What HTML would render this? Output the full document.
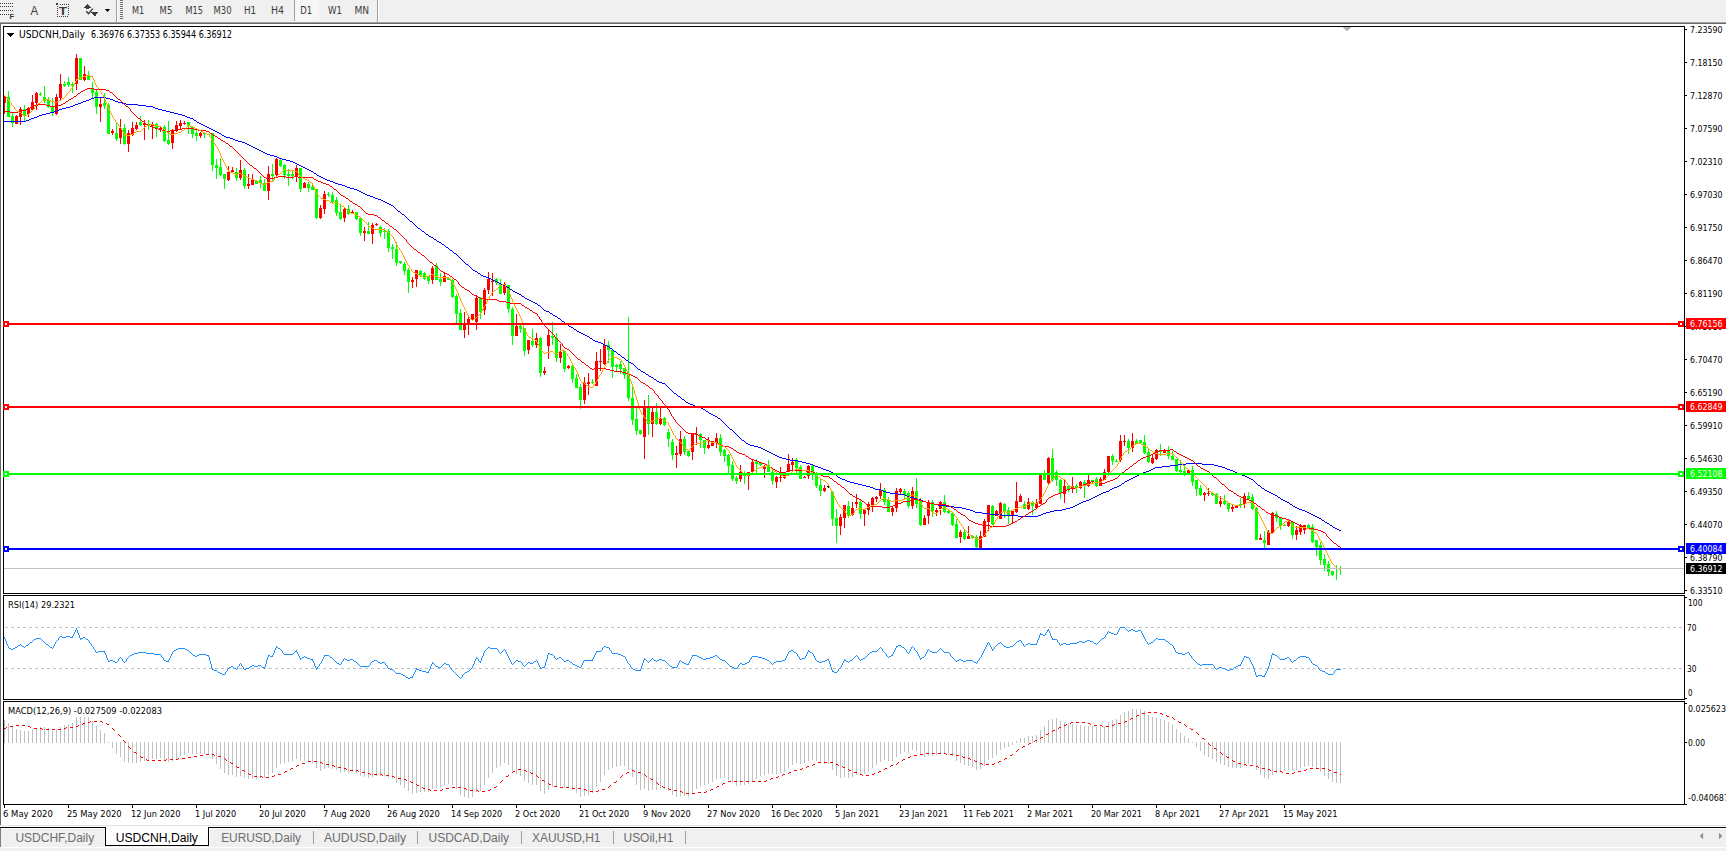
<!DOCTYPE html><html><head><meta charset="utf-8"><title>USDCNH,Daily</title><style>html,body{margin:0;padding:0;width:1726px;height:851px;overflow:hidden;background:#fff}</style></head><body><svg width="1726" height="851" viewBox="0 0 1726 851" style="position:absolute;left:0;top:0" shape-rendering="crispEdges">
<rect x="0" y="0" width="1726" height="22" fill="#f0f0f0"/>
<rect x="0" y="21" width="1726" height="1" fill="#f4f4f4"/>
<rect x="0" y="22" width="1726" height="1" fill="#a0a0a0"/>
<rect x="0" y="23" width="1726" height="1" fill="#696969"/>
<rect x="0" y="24" width="1726" height="801" fill="#ffffff"/>
<rect x="0" y="24" width="1" height="801" fill="#696969"/>
<path d="M3 26h1682v568h-1682z M4 27v566h1680v-566z" fill="#000" fill-rule="evenodd"/>
<path d="M3 595h1682v105h-1682z M4 596v103h1680v-103z" fill="#000" fill-rule="evenodd"/>
<path d="M3 701h1682v104h-1682z M4 702v102h1680v-102z" fill="#000" fill-rule="evenodd"/>
<defs><clipPath id="cm"><rect x="4" y="27" width="1680" height="566"/></clipPath><clipPath id="cr"><rect x="4" y="596" width="1680" height="103"/></clipPath><clipPath id="cd"><rect x="4" y="702" width="1680" height="102"/></clipPath></defs>
<g clip-path="url(#cm)">
<path fill="#ff0000" d="M4 96h1v18h-1z M3 96h3v7h-3zM16 115h1v9h-1z M15 116h3v8h-3zM20 107h1v18h-1z M19 109h3v8h-3zM28 107h1v10h-1z M27 108h3v6h-3zM32 95h1v16h-1z M31 102h3v8h-3zM36 92h1v18h-1z M35 93h3v10h-3zM56 94h1v21h-1z M55 97h3v17h-3zM60 74h1v26h-1z M59 84h3v14h-3zM76 54h1v36h-1z M75 58h3v26h-3zM84 66h1v15h-1z M83 74h3v6h-3zM100 97h1v25h-1z M99 104h3v3h-3zM112 129h1v6h-1z M111 131h3v2h-3zM120 119h1v25h-1z M119 128h3v10h-3zM128 130h1v22h-1z M127 133h3v11h-3zM132 122h1v14h-1z M131 128h3v7h-3zM136 122h1v8h-1z M135 125h3v4h-3zM144 120h1v20h-1z M143 123h3v2h-3zM152 122h1v17h-1z M151 125h3v1h-3zM160 127h1v5h-1z M159 128h3v2h-3zM172 129h1v20h-1z M171 130h3v13h-3zM176 121h1v11h-1z M175 125h3v5h-3zM180 120h1v9h-1z M179 123h3v3h-3zM184 121h1v4h-1z M183 123h3v1h-3zM200 132h1v6h-1z M199 133h3v3h-3zM228 166h1v15h-1z M227 172h3v8h-3zM232 167h1v6h-1z M231 170h3v2h-3zM240 160h1v20h-1z M239 170h3v8h-3zM248 174h1v15h-1z M247 184h3v2h-3zM252 174h1v11h-1z M251 180h3v5h-3zM268 166h1v34h-1z M267 174h3v17h-3zM276 158h1v18h-1z M275 159h3v16h-3zM296 165h1v17h-1z M295 168h3v8h-3zM304 182h1v6h-1z M303 183h3v5h-3zM320 205h1v14h-1z M319 208h3v10h-3zM324 191h1v23h-1z M323 194h3v15h-3zM344 208h1v14h-1z M343 209h3v9h-3zM352 210h1v4h-1z M351 212h3v2h-3zM364 227h1v14h-1z M363 231h3v2h-3zM372 223h1v21h-1z M371 225h3v9h-3zM376 223h1v3h-1z M375 224h3v1h-3zM412 277h1v11h-1z M411 280h3v2h-3zM416 270h1v17h-1z M415 270h3v9h-3zM432 266h1v18h-1z M431 268h3v12h-3zM444 272h1v10h-1z M443 276h3v6h-3zM464 312h1v26h-1z M463 323h3v7h-3zM468 315h1v20h-1z M467 319h3v5h-3zM472 314h1v7h-1z M471 314h3v6h-3zM476 296h1v34h-1z M475 298h3v24h-3zM484 288h1v27h-1z M483 290h3v20h-3zM488 272h1v22h-1z M487 279h3v11h-3zM492 273h1v23h-1z M491 281h3v1h-3zM504 282h1v13h-1z M503 284h3v9h-3zM516 314h1v22h-1z M515 326h3v10h-3zM528 340h1v14h-1z M527 340h3v10h-3zM536 333h1v15h-1z M535 338h3v7h-3zM544 367h1v8h-1z M543 371h3v2h-3zM548 329h1v30h-1z M547 335h3v11h-3zM560 344h1v19h-1z M559 352h3v6h-3zM568 365h1v4h-1z M567 366h3v2h-3zM584 377h1v27h-1z M583 383h3v17h-3zM588 373h1v22h-1z M587 382h3v2h-3zM596 352h1v34h-1z M595 361h3v25h-3zM600 349h1v22h-1z M599 361h3v1h-3zM604 339h1v26h-1z M603 345h3v19h-3zM644 400h1v59h-1z M643 406h3v31h-3zM652 408h1v29h-1z M651 412h3v12h-3zM660 408h1v17h-1z M659 419h3v5h-3zM676 446h1v22h-1z M675 453h3v2h-3zM680 431h1v25h-1z M679 439h3v15h-3zM692 434h1v26h-1z M691 434h3v18h-3zM696 427h1v18h-1z M695 434h3v1h-3zM708 437h1v12h-1z M707 445h3v3h-3zM712 441h1v5h-1z M711 443h3v3h-3zM716 433h1v15h-1z M715 438h3v5h-3zM740 465h1v17h-1z M739 472h3v7h-3zM748 472h1v18h-1z M747 472h3v4h-3zM752 459h1v14h-1z M751 462h3v10h-3zM764 465h1v13h-1z M763 467h3v2h-3zM776 476h1v12h-1z M775 477h3v5h-3zM780 467h1v15h-1z M779 477h3v1h-3zM784 474h1v5h-1z M783 475h3v3h-3zM788 454h1v18h-1z M787 464h3v8h-3zM792 458h1v12h-1z M791 462h3v3h-3zM804 476h1v2h-1z M803 477h3v1h-3zM808 465h1v14h-1z M807 466h3v10h-3zM824 485h1v7h-1z M823 488h3v3h-3zM840 514h1v21h-1z M839 517h3v9h-3zM844 505h1v23h-1z M843 505h3v13h-3zM852 502h1v14h-1z M851 508h3v7h-3zM856 494h1v14h-1z M855 502h3v2h-3zM864 509h1v17h-1z M863 510h3v4h-3zM868 502h1v13h-1z M867 504h3v6h-3zM872 497h1v15h-1z M871 498h3v7h-3zM876 496h1v6h-1z M875 497h3v2h-3zM880 483h1v16h-1z M879 490h3v6h-3zM892 506h1v10h-1z M891 508h3v4h-3zM896 488h1v24h-1z M895 491h3v17h-3zM900 488h1v6h-1z M899 489h3v3h-3zM912 487h1v22h-1z M911 491h3v15h-3zM924 515h1v10h-1z M923 518h3v7h-3zM928 500h1v24h-1z M927 503h3v13h-3zM936 508h1v8h-1z M935 510h3v2h-3zM940 501h1v14h-1z M939 502h3v7h-3zM960 530h1v13h-1z M959 532h3v5h-3zM968 526h1v13h-1z M967 536h3v3h-3zM980 531h1v17h-1z M979 536h3v12h-3zM984 519h1v18h-1z M983 521h3v16h-3zM988 505h1v26h-1z M987 505h3v17h-3zM996 510h1v6h-1z M995 511h3v5h-3zM1000 502h1v17h-1z M999 503h3v16h-3zM1012 510h1v13h-1z M1011 511h3v4h-3zM1016 482h1v31h-1z M1015 501h3v11h-3zM1020 494h1v8h-1z M1019 496h3v6h-3zM1028 498h1v12h-1z M1027 502h3v7h-3zM1036 499h1v9h-1z M1035 503h3v5h-3zM1040 475h1v29h-1z M1039 475h3v29h-3zM1048 457h1v27h-1z M1047 458h3v25h-3zM1064 480h1v23h-1z M1063 486h3v8h-3zM1072 477h1v16h-1z M1071 486h3v2h-3zM1080 481h1v8h-1z M1079 482h3v6h-3zM1088 475h1v12h-1z M1087 480h3v6h-3zM1100 477h1v9h-1z M1099 479h3v7h-3zM1104 469h1v11h-1z M1103 472h3v8h-3zM1108 456h1v17h-1z M1107 456h3v16h-3zM1120 435h1v27h-1z M1119 441h3v19h-3zM1124 435h1v11h-1z M1123 441h3v1h-3zM1132 433h1v19h-1z M1131 441h3v7h-3zM1152 455h1v9h-1z M1151 458h3v5h-3zM1156 449h1v11h-1z M1155 450h3v9h-3zM1164 449h1v4h-1z M1163 451h3v2h-3zM1188 469h1v4h-1z M1187 470h3v3h-3zM1204 492h1v9h-1z M1203 493h3v2h-3zM1208 488h1v8h-1z M1207 493h3v1h-3zM1220 496h1v11h-1z M1219 501h3v3h-3zM1232 505h1v7h-1z M1231 507h3v2h-3zM1236 505h1v3h-1z M1235 505h3v3h-3zM1244 493h1v15h-1z M1243 496h3v8h-3zM1260 534h1v6h-1z M1259 538h3v2h-3zM1268 530h1v15h-1z M1267 532h3v13h-3zM1272 512h1v22h-1z M1271 513h3v20h-3zM1288 520h1v7h-1z M1287 522h3v4h-3zM1296 526h1v14h-1z M1295 530h3v5h-3zM1300 524h1v11h-1z M1299 525h3v7h-3zM1304 525h1v9h-1z M1303 525h3v5h-3z"/>
<path fill="#00ff00" d="M8 91h1v26h-1z M7 97h3v20h-3zM12 113h1v14h-1z M11 116h3v7h-3zM24 105h1v16h-1z M23 109h3v7h-3zM40 92h1v4h-1z M39 94h3v1h-3zM44 86h1v17h-1z M43 97h3v4h-3zM48 97h1v11h-1z M47 100h3v7h-3zM52 98h1v18h-1z M51 107h3v6h-3zM64 81h1v6h-1z M63 84h3v2h-3zM68 77h1v10h-1z M67 82h3v3h-3zM72 82h1v11h-1z M71 84h3v2h-3zM80 58h1v22h-1z M79 58h3v22h-3zM88 71h1v9h-1z M87 76h3v4h-3zM92 82h1v17h-1z M91 89h3v4h-3zM96 90h1v24h-1z M95 92h3v15h-3zM104 93h1v16h-1z M103 103h3v3h-3zM108 103h1v31h-1z M107 105h3v29h-3zM116 123h1v18h-1z M115 133h3v6h-3zM124 124h1v21h-1z M123 128h3v16h-3zM140 116h1v10h-1z M139 122h3v3h-3zM148 120h1v10h-1z M147 124h3v2h-3zM156 123h1v14h-1z M155 124h3v5h-3zM164 125h1v17h-1z M163 127h3v14h-3zM168 121h1v24h-1z M167 140h3v4h-3zM188 122h1v12h-1z M187 122h3v4h-3zM192 127h1v11h-1z M191 127h3v7h-3zM196 130h1v11h-1z M195 133h3v3h-3zM204 132h1v6h-1z M203 133h3v1h-3zM208 134h1v1h-1z M207 134h3v1h-3zM212 133h1v38h-1z M211 133h3v32h-3zM216 159h1v20h-1z M215 165h3v3h-3zM220 158h1v18h-1z M219 167h3v8h-3zM224 174h1v15h-1z M223 174h3v5h-3zM236 168h1v13h-1z M235 172h3v6h-3zM244 168h1v21h-1z M243 170h3v16h-3zM256 180h1v4h-1z M255 181h3v3h-3zM260 176h1v12h-1z M259 180h3v3h-3zM264 179h1v12h-1z M263 183h3v8h-3zM272 164h1v17h-1z M271 174h3v2h-3zM280 159h1v8h-1z M279 160h3v6h-3zM284 164h1v15h-1z M283 165h3v10h-3zM288 169h1v17h-1z M287 174h3v2h-3zM292 171h1v8h-1z M291 174h3v2h-3zM300 168h1v24h-1z M299 168h3v21h-3zM308 182h1v10h-1z M307 184h3v4h-3zM312 185h1v5h-1z M311 187h3v3h-3zM316 189h1v30h-1z M315 189h3v29h-3zM328 192h1v5h-1z M327 194h3v1h-3zM332 192h1v11h-1z M331 195h3v7h-3zM336 197h1v19h-1z M335 200h3v13h-3zM340 205h1v15h-1z M339 212h3v7h-3zM348 205h1v10h-1z M347 209h3v5h-3zM356 212h1v8h-1z M355 212h3v7h-3zM360 218h1v18h-1z M359 218h3v15h-3zM368 222h1v12h-1z M367 231h3v3h-3zM380 226h1v11h-1z M379 227h3v6h-3zM384 228h1v11h-1z M383 231h3v1h-3zM388 229h1v23h-1z M387 231h3v17h-3zM392 244h1v15h-1z M391 247h3v2h-3zM396 242h1v24h-1z M395 249h3v14h-3zM400 261h1v3h-1z M399 261h3v2h-3zM404 262h1v13h-1z M403 264h3v7h-3zM408 268h1v25h-1z M407 270h3v12h-3zM420 270h1v7h-1z M419 271h3v4h-3zM424 272h1v8h-1z M423 273h3v6h-3zM428 276h1v8h-1z M427 276h3v5h-3zM436 263h1v17h-1z M435 266h3v14h-3zM440 273h1v13h-1z M439 279h3v3h-3zM448 277h1v3h-1z M447 278h3v2h-3zM452 279h1v19h-1z M451 280h3v17h-3zM456 294h1v29h-1z M455 296h3v18h-3zM460 309h1v21h-1z M459 313h3v17h-3zM480 297h1v22h-1z M479 298h3v14h-3zM496 278h1v7h-1z M495 279h3v4h-3zM500 279h1v15h-1z M499 284h3v10h-3zM508 285h1v28h-1z M507 285h3v24h-3zM512 307h1v38h-1z M511 309h3v27h-3zM520 325h1v8h-1z M519 326h3v3h-3zM524 328h1v28h-1z M523 328h3v23h-3zM532 329h1v18h-1z M531 341h3v4h-3zM540 337h1v40h-1z M539 338h3v35h-3zM552 322h1v23h-1z M551 336h3v2h-3zM556 333h1v29h-1z M555 338h3v20h-3zM564 350h1v22h-1z M563 351h3v18h-3zM572 363h1v20h-1z M571 366h3v13h-3zM576 374h1v14h-1z M575 378h3v10h-3zM580 384h1v25h-1z M579 387h3v13h-3zM592 379h1v5h-1z M591 382h3v1h-3zM608 341h1v22h-1z M607 345h3v5h-3zM612 349h1v29h-1z M611 350h3v17h-3zM616 364h1v7h-1z M615 365h3v2h-3zM620 361h1v13h-1z M619 364h3v5h-3zM624 368h1v11h-1z M623 368h3v7h-3zM628 317h1v84h-1z M627 374h3v24h-3zM632 386h1v39h-1z M631 398h3v22h-3zM636 408h1v27h-1z M635 419h3v12h-3zM640 430h1v5h-1z M639 430h3v4h-3zM648 395h1v40h-1z M647 408h3v16h-3zM656 403h1v22h-1z M655 412h3v12h-3zM664 417h1v9h-1z M663 418h3v7h-3zM668 429h1v18h-1z M667 432h3v7h-3zM672 439h1v21h-1z M671 442h3v13h-3zM684 436h1v19h-1z M683 439h3v13h-3zM688 450h1v7h-1z M687 451h3v5h-3zM700 433h1v15h-1z M699 434h3v6h-3zM704 440h1v14h-1z M703 440h3v8h-3zM720 434h1v22h-1z M719 438h3v14h-3zM724 449h1v13h-1z M723 450h3v6h-3zM728 454h1v19h-1z M727 455h3v11h-3zM732 461h1v20h-1z M731 465h3v14h-3zM736 476h1v8h-1z M735 478h3v3h-3zM744 471h1v13h-1z M743 474h3v2h-3zM756 459h1v14h-1z M755 461h3v3h-3zM760 462h1v4h-1z M759 463h3v2h-3zM768 460h1v12h-1z M767 465h3v7h-3zM772 470h1v15h-1z M771 472h3v9h-3zM796 458h1v17h-1z M795 461h3v7h-3zM800 465h1v14h-1z M799 467h3v12h-3zM812 465h1v15h-1z M811 466h3v6h-3zM816 472h1v16h-1z M815 475h3v11h-3zM820 478h1v18h-1z M819 485h3v6h-3zM832 491h1v35h-1z M831 492h3v27h-3zM836 509h1v34h-1z M835 518h3v8h-3zM848 501h1v17h-1z M847 506h3v9h-3zM860 500h1v19h-1z M859 502h3v12h-3zM884 488h1v17h-1z M883 490h3v12h-3zM888 497h1v15h-1z M887 500h3v12h-3zM904 489h1v10h-1z M903 491h3v4h-3zM908 491h1v17h-1z M907 493h3v13h-3zM916 478h1v30h-1z M915 491h3v13h-3zM920 498h1v28h-1z M919 500h3v25h-3zM932 500h1v17h-1z M931 502h3v9h-3zM944 495h1v18h-1z M943 502h3v10h-3zM948 510h1v4h-1z M947 511h3v2h-3zM952 512h1v14h-1z M951 513h3v12h-3zM956 519h1v19h-1z M955 524h3v14h-3zM964 530h1v10h-1z M963 532h3v7h-3zM972 535h1v4h-1z M971 536h3v2h-3zM976 535h1v13h-1z M975 537h3v10h-3zM992 505h1v20h-1z M991 506h3v18h-3zM1004 503h1v15h-1z M1003 504h3v8h-3zM1008 507h1v17h-1z M1007 510h3v5h-3zM1024 501h1v8h-1z M1023 504h3v5h-3zM1032 501h1v14h-1z M1031 502h3v4h-3zM1044 470h1v10h-1z M1043 474h3v6h-3zM1052 449h1v33h-1z M1051 458h3v22h-3zM1056 470h1v16h-1z M1055 472h3v8h-3zM1060 479h1v20h-1z M1059 480h3v13h-3zM1068 485h1v7h-1z M1067 486h3v3h-3zM1076 484h1v9h-1z M1075 486h3v2h-3zM1084 480h1v18h-1z M1083 482h3v2h-3zM1092 480h1v4h-1z M1091 480h3v2h-3zM1096 477h1v10h-1z M1095 479h3v7h-3zM1112 454h1v11h-1z M1111 456h3v5h-3zM1116 459h1v3h-1z M1115 461h3v1h-3zM1128 439h1v15h-1z M1127 441h3v7h-3zM1136 439h1v5h-1z M1135 441h3v3h-3zM1140 440h1v4h-1z M1139 440h3v3h-3zM1144 435h1v19h-1z M1143 442h3v11h-3zM1148 448h1v15h-1z M1147 452h3v10h-3zM1160 444h1v12h-1z M1159 450h3v2h-3zM1168 446h1v13h-1z M1167 451h3v5h-3zM1172 451h1v9h-1z M1171 456h3v4h-3zM1176 459h1v13h-1z M1175 459h3v12h-3zM1180 460h1v14h-1z M1179 470h3v2h-3zM1184 465h1v11h-1z M1183 471h3v3h-3zM1192 466h1v20h-1z M1191 470h3v12h-3zM1196 480h1v16h-1z M1195 480h3v9h-3zM1200 485h1v11h-1z M1199 488h3v7h-3zM1212 492h1v4h-1z M1211 493h3v2h-3zM1216 493h1v11h-1z M1215 494h3v10h-3zM1224 495h1v10h-1z M1223 501h3v3h-3zM1228 503h1v9h-1z M1227 503h3v6h-3zM1240 498h1v10h-1z M1239 504h3v1h-3zM1248 492h1v7h-1z M1247 496h3v3h-3zM1252 494h1v16h-1z M1251 497h3v12h-3zM1256 507h1v33h-1z M1255 508h3v32h-3zM1264 531h1v17h-1z M1263 540h3v3h-3zM1276 511h1v11h-1z M1275 514h3v4h-3zM1280 517h1v13h-1z M1279 518h3v8h-3zM1284 524h1v2h-1z M1283 525h3v1h-3zM1292 522h1v17h-1z M1291 522h3v13h-3zM1308 524h1v5h-1z M1307 525h3v3h-3zM1312 524h1v19h-1z M1311 527h3v15h-3zM1316 540h1v16h-1z M1315 540h3v7h-3zM1320 542h1v23h-1z M1319 545h3v15h-3zM1324 554h1v17h-1z M1323 559h3v6h-3zM1328 561h1v15h-1z M1327 564h3v8h-3zM1332 571h1v5h-1z M1331 571h3v4h-3zM1336 565h1v15h-1z M1335 568h3v1h-3zM1340 566h1v9h-1z M1339 568h3v1h-3z"/>
<path fill="#000000" d="M828 484h1v4h-1z M827 486h3v1h-3z"/>
<path fill="#0000ff" d="M193 119h1v1h-1zM196 121h1v1h-1zM221 134h1v1h-1zM313 172h1v1h-1zM316 174h1v1h-1zM393 206h1v1h-1zM394 207h1v1h-1zM395 208h1v1h-1zM396 209h1v1h-1zM397 210h1v1h-1zM400 212h1v1h-1zM401 213h1v1h-1zM404 215h1v1h-1zM405 216h1v1h-1zM406 217h1v1h-1zM407 218h1v1h-1zM408 219h1v1h-1zM409 220h1v1h-1zM412 222h1v1h-1zM413 223h1v1h-1zM414 224h1v1h-1zM415 225h1v1h-1zM416 226h1v1h-1zM417 227h1v1h-1zM420 229h1v1h-1zM421 230h1v1h-1zM424 232h1v1h-1zM425 233h1v1h-1zM428 235h1v1h-1zM433 238h1v1h-1zM436 240h1v1h-1zM441 243h1v1h-1zM444 245h1v1h-1zM445 246h1v1h-1zM448 248h1v1h-1zM449 249h1v1h-1zM452 251h1v1h-1zM453 252h1v1h-1zM456 254h1v1h-1zM457 255h1v1h-1zM458 256h1v1h-1zM459 257h1v1h-1zM460 258h1v1h-1zM461 259h1v1h-1zM462 260h1v1h-1zM463 261h1v1h-1zM464 262h1v1h-1zM465 263h1v1h-1zM468 265h1v1h-1zM469 266h1v1h-1zM470 267h1v1h-1zM471 268h1v1h-1zM472 269h1v1h-1zM477 272h1v1h-1zM480 274h1v1h-1zM509 288h1v1h-1zM512 290h1v1h-1zM521 295h1v1h-1zM524 297h1v1h-1zM537 304h1v1h-1zM540 306h1v1h-1zM541 307h1v1h-1zM542 308h1v1h-1zM543 309h1v1h-1zM549 312h1v1h-1zM552 314h1v1h-1zM557 317h1v1h-1zM560 319h1v1h-1zM561 320h1v1h-1zM564 322h1v1h-1zM565 323h1v1h-1zM568 325h1v1h-1zM573 328h1v1h-1zM576 330h1v1h-1zM589 337h1v1h-1zM592 339h1v1h-1zM609 347h1v1h-1zM612 349h1v1h-1zM613 350h1v1h-1zM616 352h1v1h-1zM617 353h1v1h-1zM620 355h1v1h-1zM621 356h1v1h-1zM624 358h1v1h-1zM625 359h1v1h-1zM628 361h1v1h-1zM633 364h1v1h-1zM634 365h1v1h-1zM635 366h1v1h-1zM636 367h1v1h-1zM637 368h1v1h-1zM640 370h1v1h-1zM645 373h1v1h-1zM648 375h1v1h-1zM653 378h1v1h-1zM656 380h1v1h-1zM665 384h1v1h-1zM666 385h1v1h-1zM667 386h1v1h-1zM668 387h1v1h-1zM669 388h1v1h-1zM670 389h1v1h-1zM671 390h1v1h-1zM672 391h1v1h-1zM673 392h1v1h-1zM676 394h1v1h-1zM677 395h1v1h-1zM680 397h1v1h-1zM681 398h1v1h-1zM684 400h1v1h-1zM685 401h1v1h-1zM705 410h1v1h-1zM708 412h1v1h-1zM717 417h1v1h-1zM720 419h1v1h-1zM721 420h1v1h-1zM722 421h1v1h-1zM723 422h1v1h-1zM724 423h1v1h-1zM725 424h1v1h-1zM726 425h1v1h-1zM727 426h1v1h-1zM728 427h1v1h-1zM729 428h1v1h-1zM732 430h1v1h-1zM733 431h1v1h-1zM734 432h1v1h-1zM735 433h1v1h-1zM736 434h1v1h-1zM737 435h1v1h-1zM738 436h1v1h-1zM739 437h1v1h-1zM740 438h1v1h-1zM741 439h1v1h-1zM744 441h1v1h-1zM745 442h1v1h-1zM833 473h1v1h-1zM836 475h1v1h-1zM837 476h1v1h-1zM1109 490h1v1h-1zM1121 484h1v1h-1zM1124 482h1v1h-1zM1253 480h1v1h-1zM1254 481h1v1h-1zM1255 482h1v1h-1zM1256 483h1v1h-1zM1257 484h1v1h-1zM1260 486h1v1h-1zM1261 487h1v1h-1zM1264 489h1v1h-1zM1277 496h1v1h-1zM1280 498h1v1h-1zM1289 503h1v1h-1zM1292 505h1v1h-1zM1321 519h1v1h-1zM1324 521h1v1h-1zM1329 524h1v1h-1zM1332 526h1v1h-1zM335 183h3v1h-3zM1018 516h20v1h-20zM1315 516h2v1h-2zM973 511h2v1h-2zM1050 511h4v1h-4zM1305 511h2v1h-2zM327 180h3v1h-3zM777 456h2v1h-2zM862 485h4v1h-4zM1119 485h2v1h-2zM1258 485h2v1h-2zM769 452h2v1h-2zM970 510h3v1h-3zM1054 510h8v1h-8zM1302 510h3v1h-3zM605 345h2v1h-2zM813 465h2v1h-2zM1170 465h8v1h-8zM1214 465h4v1h-4zM62 108h4v1h-4zM155 108h3v1h-3zM321 177h2v1h-2zM426 234h2v1h-2zM1322 520h2v1h-2zM890 493h8v1h-8zM1101 493h2v1h-2zM1271 493h2v1h-2zM1002 515h16v1h-16zM1038 515h3v1h-3zM1313 515h2v1h-2zM761 448h2v1h-2zM954 507h8v1h-8zM1070 507h3v1h-3zM1295 507h2v1h-2zM579 332h2v1h-2zM898 494h7v1h-7zM1099 494h2v1h-2zM1273 494h2v1h-2zM1137 475h2v1h-2zM1242 475h3v1h-3zM286 160h4v1h-4zM26 120h3v1h-3zM194 120h2v1h-2zM533 302h2v1h-2zM553 315h2v1h-2zM525 298h2v1h-2zM197 122h2v1h-2zM806 463h4v1h-4zM1186 463h16v1h-16zM881 490h2v1h-2zM1265 490h2v1h-2zM39 115h3v1h-3zM182 115h3v1h-3zM802 462h4v1h-4zM930 503h4v1h-4zM1079 503h2v1h-2zM519 294h2v1h-2zM78 103h3v1h-3zM122 103h4v1h-4zM858 484h4v1h-4zM59 109h3v1h-3zM158 109h4v1h-4zM91 98h3v1h-3zM106 98h4v1h-4zM233 139h2v1h-2zM975 512h7v1h-7zM1046 512h4v1h-4zM1307 512h2v1h-2zM866 486h4v1h-4zM1117 486h2v1h-2zM422 231h2v1h-2zM1317 517h2v1h-2zM982 513h8v1h-8zM1043 513h3v1h-3zM1309 513h2v1h-2zM410 221h2v1h-2zM990 514h12v1h-12zM1041 514h2v1h-2zM1311 514h2v1h-2zM711 414h2v1h-2zM946 506h8v1h-8zM1073 506h2v1h-2zM1293 506h2v1h-2zM546 311h3v1h-3zM75 104h3v1h-3zM126 104h12v1h-12zM713 415h2v1h-2zM57 110h2v1h-2zM162 110h4v1h-4zM29 119h2v1h-2zM513 291h2v1h-2zM818 467h3v1h-3zM1155 467h7v1h-7zM1222 467h3v1h-3zM37 116h2v1h-2zM185 116h2v1h-2zM505 286h2v1h-2zM934 504h4v1h-4zM1077 504h2v1h-2zM1290 504h2v1h-2zM507 287h2v1h-2zM499 283h2v1h-2zM918 499h3v1h-3zM1089 499h2v1h-2zM1281 499h2v1h-2zM245 143h2v1h-2zM823 469h3v1h-3zM1151 469h2v1h-2zM1227 469h3v1h-3zM442 244h2v1h-2zM850 482h4v1h-4zM454 253h2v1h-2zM1339 530h2v1h-2zM815 466h3v1h-3zM1162 466h8v1h-8zM1218 466h4v1h-4zM434 239h2v1h-2zM842 479h3v1h-3zM1129 479h2v1h-2zM1251 479h2v1h-2zM418 228h2v1h-2zM562 321h2v1h-2zM845 480h2v1h-2zM1127 480h2v1h-2zM282 159h4v1h-4zM875 489h6v1h-6zM1110 489h2v1h-2zM701 408h2v1h-2zM373 197h2v1h-2zM274 156h3v1h-3zM46 113h4v1h-4zM174 113h4v1h-4zM325 179h2v1h-2zM810 464h3v1h-3zM1178 464h8v1h-8zM1202 464h12v1h-12zM829 471h2v1h-2zM1146 471h3v1h-3zM1233 471h2v1h-2zM622 357h2v1h-2zM486 277h3v1h-3zM782 458h4v1h-4zM773 454h2v1h-2zM450 250h2v1h-2zM1327 523h2v1h-2zM775 455h2v1h-2zM767 451h2v1h-2zM831 472h2v1h-2zM1143 472h3v1h-3zM1235 472h2v1h-2zM431 237h2v1h-2zM89 99h2v1h-2zM110 99h3v1h-3zM962 508h4v1h-4zM1066 508h4v1h-4zM1297 508h2v1h-2zM42 114h4v1h-4zM178 114h4v1h-4zM798 461h4v1h-4zM926 502h4v1h-4zM1081 502h2v1h-2zM1287 502h2v1h-2zM94 97h12v1h-12zM238 141h4v1h-4zM230 138h3v1h-3zM446 247h2v1h-2zM718 418h2v1h-2zM4 121h22v1h-22zM31 118h3v1h-3zM190 118h3v1h-3zM267 154h3v1h-3zM840 478h2v1h-2zM1131 478h2v1h-2zM1249 478h2v1h-2zM821 468h2v1h-2zM1153 468h2v1h-2zM1225 468h2v1h-2zM1337 529h2v1h-2zM279 158h3v1h-3zM706 411h2v1h-2zM698 407h3v1h-3zM370 196h3v1h-3zM361 192h2v1h-2zM270 155h4v1h-4zM363 193h2v1h-2zM354 189h3v1h-3zM873 488h2v1h-2zM1112 488h2v1h-2zM1262 488h2v1h-2zM790 460h8v1h-8zM491 279h2v1h-2zM501 284h2v1h-2zM626 360h2v1h-2zM493 280h2v1h-2zM483 276h3v1h-3zM607 346h2v1h-2zM966 509h4v1h-4zM1062 509h4v1h-4zM1299 509h3v1h-3zM70 106h3v1h-3zM146 106h7v1h-7zM323 178h2v1h-2zM601 343h2v1h-2zM317 175h2v1h-2zM429 236h2v1h-2zM826 470h3v1h-3zM1149 470h2v1h-2zM1230 470h3v1h-3zM1325 522h2v1h-2zM765 450h2v1h-2zM754 446h4v1h-4zM226 137h4v1h-4zM54 111h3v1h-3zM166 111h4v1h-4zM529 300h2v1h-2zM311 171h2v1h-2zM758 447h3v1h-3zM305 168h2v1h-2zM883 491h3v1h-3zM1106 491h3v1h-3zM1267 491h2v1h-2zM938 505h8v1h-8zM1075 505h2v1h-2zM715 416h2v1h-2zM517 293h2v1h-2zM921 500h2v1h-2zM1086 500h3v1h-3zM1283 500h2v1h-2zM662 383h3v1h-3zM905 495h2v1h-2zM1097 495h2v1h-2zM1275 495h2v1h-2zM629 362h2v1h-2zM34 117h3v1h-3zM187 117h3v1h-3zM838 477h2v1h-2zM1133 477h2v1h-2zM1247 477h2v1h-2zM1135 476h2v1h-2zM1245 476h2v1h-2zM367 195h3v1h-3zM703 409h2v1h-2zM923 501h3v1h-3zM1083 501h3v1h-3zM1285 501h2v1h-2zM910 497h4v1h-4zM1093 497h2v1h-2zM1278 497h2v1h-2zM277 157h2v1h-2zM695 406h3v1h-3zM81 102h2v1h-2zM118 102h4v1h-4zM359 191h2v1h-2zM350 188h4v1h-4zM50 112h4v1h-4zM170 112h4v1h-4zM497 282h2v1h-2zM489 278h2v1h-2zM475 271h2v1h-2zM847 481h3v1h-3zM1125 481h2v1h-2zM1141 473h2v1h-2zM1237 473h2v1h-2zM1330 525h2v1h-2zM314 173h2v1h-2zM834 474h2v1h-2zM1139 474h2v1h-2zM1239 474h3v1h-3zM224 136h2v1h-2zM527 299h2v1h-2zM638 369h2v1h-2zM66 107h4v1h-4zM153 107h2v1h-2zM235 140h3v1h-3zM309 170h2v1h-2zM730 429h2v1h-2zM219 133h2v1h-2zM295 163h2v1h-2zM205 126h2v1h-2zM659 382h3v1h-3zM515 292h2v1h-2zM614 351h2v1h-2zM466 264h2v1h-2zM73 105h2v1h-2zM138 105h8v1h-8zM709 413h2v1h-2zM693 405h2v1h-2zM365 194h2v1h-2zM357 190h2v1h-2zM503 285h2v1h-2zM870 487h3v1h-3zM1114 487h3v1h-3zM495 281h2v1h-2zM641 371h2v1h-2zM610 348h2v1h-2zM603 344h2v1h-2zM319 176h2v1h-2zM595 341h3v1h-3zM473 270h2v1h-2zM222 135h2v1h-2zM907 496h3v1h-3zM1095 496h2v1h-2zM330 181h3v1h-3zM771 453h2v1h-2zM763 449h2v1h-2zM307 169h2v1h-2zM217 132h2v1h-2zM583 334h2v1h-2zM209 128h2v1h-2zM657 381h2v1h-2zM345 186h2v1h-2zM303 167h2v1h-2zM690 404h3v1h-3zM854 483h4v1h-4zM1122 483h2v1h-2zM646 374h2v1h-2zM257 149h2v1h-2zM249 145h2v1h-2zM478 273h2v1h-2zM437 241h2v1h-2zM593 340h2v1h-2zM86 100h3v1h-3zM113 100h2v1h-2zM385 202h2v1h-2zM886 492h4v1h-4zM1103 492h3v1h-3zM1269 492h2v1h-2zM387 203h2v1h-2zM215 131h2v1h-2zM581 333h2v1h-2zM674 393h2v1h-2zM618 354h2v1h-2zM299 165h2v1h-2zM301 166h2v1h-2zM550 313h2v1h-2zM261 151h2v1h-2zM651 377h2v1h-2zM263 152h2v1h-2zM255 148h2v1h-2zM631 363h2v1h-2zM247 144h2v1h-2zM748 444h2v1h-2zM914 498h4v1h-4zM1091 498h2v1h-2zM587 336h2v1h-2zM742 440h2v1h-2zM535 303h2v1h-2zM678 396h2v1h-2zM338 184h4v1h-4zM297 164h2v1h-2zM555 316h2v1h-2zM207 127h2v1h-2zM574 329h2v1h-2zM290 161h3v1h-3zM201 124h2v1h-2zM686 402h2v1h-2zM342 185h3v1h-3zM259 150h2v1h-2zM649 376h2v1h-2zM253 147h2v1h-2zM481 275h2v1h-2zM746 443h2v1h-2zM688 403h2v1h-2zM682 399h2v1h-2zM643 372h2v1h-2zM598 342h3v1h-3zM389 204h2v1h-2zM391 205h2v1h-2zM383 201h2v1h-2zM402 214h2v1h-2zM538 305h2v1h-2zM558 318h2v1h-2zM577 331h2v1h-2zM375 198h3v1h-3zM531 301h2v1h-2zM786 459h4v1h-4zM213 130h2v1h-2zM83 101h3v1h-3zM115 101h3v1h-3zM199 123h2v1h-2zM265 153h2v1h-2zM347 187h3v1h-3zM654 379h2v1h-2zM242 142h3v1h-3zM750 445h4v1h-4zM590 338h2v1h-2zM381 200h2v1h-2zM585 335h2v1h-2zM293 162h2v1h-2zM211 129h2v1h-2zM203 125h2v1h-2zM544 310h2v1h-2zM398 211h2v1h-2zM566 324h2v1h-2zM251 146h2v1h-2zM378 199h3v1h-3zM333 182h2v1h-2zM522 296h2v1h-2zM569 326h2v1h-2zM571 327h2v1h-2zM510 289h2v1h-2zM1335 528h2v1h-2zM439 242h2v1h-2zM779 457h3v1h-3zM1319 518h2v1h-2zM1333 527h2v1h-2z"/>
<path fill="#ff0000" d="M29 108h1v1h-1zM65 102h1v1h-1zM68 100h1v1h-1zM73 97h1v1h-1zM76 95h1v1h-1zM77 94h1v1h-1zM80 92h1v1h-1zM109 91h1v1h-1zM112 93h1v1h-1zM113 94h1v1h-1zM114 95h1v1h-1zM115 96h1v1h-1zM116 97h1v1h-1zM117 98h1v1h-1zM120 100h1v1h-1zM121 101h1v1h-1zM122 102h1v1h-1zM123 103h1v1h-1zM124 104h1v1h-1zM125 105h1v1h-1zM128 107h1v1h-1zM129 108h1v1h-1zM130 109h1v2h-1zM131 111h1v1h-1zM132 112h1v1h-1zM133 113h1v1h-1zM134 114h1v1h-1zM135 115h1v1h-1zM136 116h1v1h-1zM137 117h1v1h-1zM140 119h1v1h-1zM141 120h1v1h-1zM144 122h1v1h-1zM145 123h1v1h-1zM209 132h1v1h-1zM212 134h1v1h-1zM217 137h1v1h-1zM220 139h1v1h-1zM225 142h1v1h-1zM228 144h1v1h-1zM229 145h1v1h-1zM232 147h1v1h-1zM233 148h1v1h-1zM234 149h1v1h-1zM235 150h1v1h-1zM236 151h1v1h-1zM237 152h1v1h-1zM238 153h1v1h-1zM239 154h1v1h-1zM240 155h1v1h-1zM241 156h1v1h-1zM242 157h1v1h-1zM243 158h1v1h-1zM244 159h1v1h-1zM245 160h1v1h-1zM246 161h1v1h-1zM247 162h1v1h-1zM248 163h1v1h-1zM249 164h1v1h-1zM252 166h1v1h-1zM253 167h1v1h-1zM256 169h1v1h-1zM257 170h1v1h-1zM258 171h1v1h-1zM259 172h1v1h-1zM260 173h1v1h-1zM261 174h1v1h-1zM262 175h1v1h-1zM263 176h1v1h-1zM313 178h1v1h-1zM329 185h1v1h-1zM332 187h1v1h-1zM333 188h1v1h-1zM336 190h1v1h-1zM337 191h1v1h-1zM338 192h1v1h-1zM339 193h1v1h-1zM340 194h1v1h-1zM345 197h1v1h-1zM348 199h1v1h-1zM349 200h1v1h-1zM352 202h1v1h-1zM357 205h1v1h-1zM360 207h1v1h-1zM361 208h1v1h-1zM362 209h1v1h-1zM363 210h1v1h-1zM364 211h1v1h-1zM365 212h1v1h-1zM377 216h1v1h-1zM380 218h1v1h-1zM381 219h1v1h-1zM384 221h1v1h-1zM385 222h1v1h-1zM388 224h1v1h-1zM389 225h1v1h-1zM392 227h1v1h-1zM393 228h1v1h-1zM396 230h1v1h-1zM397 231h1v1h-1zM398 232h1v1h-1zM399 233h1v1h-1zM400 234h1v1h-1zM401 235h1v1h-1zM402 236h1v1h-1zM403 237h1v1h-1zM404 238h1v1h-1zM405 239h1v1h-1zM406 240h1v2h-1zM407 242h1v1h-1zM408 243h1v1h-1zM409 244h1v1h-1zM410 245h1v1h-1zM411 246h1v1h-1zM412 247h1v1h-1zM413 248h1v1h-1zM416 250h1v1h-1zM417 251h1v1h-1zM420 253h1v1h-1zM421 254h1v1h-1zM424 256h1v1h-1zM425 257h1v1h-1zM426 258h1v1h-1zM427 259h1v1h-1zM428 260h1v1h-1zM429 261h1v1h-1zM432 263h1v1h-1zM433 264h1v1h-1zM436 266h1v1h-1zM437 267h1v1h-1zM438 268h1v1h-1zM439 269h1v1h-1zM440 270h1v1h-1zM449 275h1v1h-1zM452 277h1v1h-1zM453 278h1v1h-1zM456 280h1v1h-1zM457 281h1v1h-1zM458 282h1v2h-1zM459 284h1v1h-1zM460 285h1v1h-1zM461 286h1v1h-1zM464 288h1v1h-1zM469 291h1v1h-1zM470 292h1v1h-1zM471 293h1v1h-1zM477 296h1v1h-1zM521 304h1v1h-1zM524 306h1v1h-1zM529 309h1v1h-1zM532 311h1v1h-1zM537 314h1v2h-1zM538 316h1v1h-1zM539 317h1v2h-1zM540 319h1v1h-1zM541 320h1v2h-1zM542 322h1v1h-1zM543 323h1v2h-1zM544 325h1v1h-1zM545 326h1v1h-1zM546 327h1v1h-1zM547 328h1v1h-1zM548 329h1v1h-1zM549 330h1v1h-1zM550 331h1v1h-1zM551 332h1v1h-1zM552 333h1v1h-1zM553 334h1v1h-1zM554 335h1v2h-1zM555 337h1v1h-1zM556 338h1v1h-1zM557 339h1v1h-1zM558 340h1v1h-1zM559 341h1v1h-1zM560 342h1v1h-1zM561 343h1v1h-1zM562 344h1v2h-1zM563 346h1v1h-1zM564 347h1v1h-1zM569 350h1v1h-1zM570 351h1v1h-1zM571 352h1v1h-1zM572 353h1v1h-1zM573 354h1v1h-1zM574 355h1v1h-1zM575 356h1v1h-1zM576 357h1v1h-1zM577 358h1v1h-1zM580 360h1v1h-1zM581 361h1v1h-1zM584 363h1v1h-1zM585 364h1v1h-1zM588 366h1v1h-1zM589 367h1v1h-1zM637 378h1v1h-1zM638 379h1v1h-1zM639 380h1v1h-1zM640 381h1v1h-1zM645 384h1v1h-1zM648 386h1v1h-1zM649 387h1v1h-1zM652 389h1v1h-1zM653 390h1v1h-1zM654 391h1v2h-1zM655 393h1v1h-1zM656 394h1v1h-1zM657 395h1v1h-1zM658 396h1v2h-1zM659 398h1v1h-1zM660 399h1v1h-1zM661 400h1v1h-1zM662 401h1v2h-1zM663 403h1v1h-1zM664 404h1v1h-1zM665 405h1v1h-1zM666 406h1v2h-1zM667 408h1v1h-1zM668 409h1v1h-1zM669 410h1v2h-1zM670 412h1v2h-1zM671 414h1v2h-1zM672 416h1v1h-1zM673 417h1v2h-1zM674 419h1v1h-1zM675 420h1v2h-1zM676 422h1v1h-1zM677 423h1v1h-1zM678 424h1v1h-1zM679 425h1v1h-1zM680 426h1v1h-1zM681 427h1v1h-1zM682 428h1v1h-1zM683 429h1v1h-1zM684 430h1v1h-1zM685 431h1v1h-1zM697 434h1v1h-1zM705 438h1v1h-1zM733 449h1v1h-1zM736 451h1v1h-1zM745 455h1v1h-1zM748 457h1v1h-1zM769 466h1v1h-1zM772 468h1v1h-1zM829 477h1v1h-1zM832 479h1v1h-1zM833 480h1v1h-1zM836 482h1v1h-1zM837 483h1v1h-1zM840 485h1v1h-1zM841 486h1v1h-1zM844 488h1v1h-1zM845 489h1v1h-1zM846 490h1v1h-1zM847 491h1v1h-1zM848 492h1v1h-1zM849 493h1v1h-1zM852 495h1v1h-1zM861 500h1v1h-1zM864 502h1v1h-1zM865 503h1v1h-1zM953 508h1v1h-1zM956 510h1v1h-1zM957 511h1v1h-1zM960 513h1v1h-1zM965 516h1v1h-1zM966 517h1v1h-1zM967 518h1v1h-1zM968 519h1v1h-1zM1017 520h1v1h-1zM1020 518h1v1h-1zM1025 515h1v1h-1zM1028 513h1v1h-1zM1033 510h1v1h-1zM1036 508h1v1h-1zM1037 507h1v1h-1zM1040 505h1v1h-1zM1045 502h1v1h-1zM1046 500h1v2h-1zM1047 499h1v1h-1zM1048 498h1v1h-1zM1117 477h1v1h-1zM1118 476h1v1h-1zM1119 475h1v1h-1zM1120 474h1v1h-1zM1121 473h1v1h-1zM1124 471h1v1h-1zM1125 470h1v1h-1zM1128 468h1v1h-1zM1129 467h1v1h-1zM1132 465h1v1h-1zM1133 464h1v1h-1zM1136 462h1v1h-1zM1137 461h1v1h-1zM1140 459h1v1h-1zM1173 450h1v1h-1zM1176 452h1v1h-1zM1193 461h1v1h-1zM1194 462h1v1h-1zM1195 463h1v1h-1zM1196 464h1v1h-1zM1197 465h1v1h-1zM1200 467h1v1h-1zM1209 472h1v1h-1zM1210 473h1v1h-1zM1211 474h1v1h-1zM1212 475h1v1h-1zM1213 476h1v1h-1zM1216 478h1v1h-1zM1217 479h1v1h-1zM1218 480h1v1h-1zM1219 481h1v1h-1zM1220 482h1v1h-1zM1221 483h1v1h-1zM1224 485h1v1h-1zM1225 486h1v1h-1zM1226 487h1v1h-1zM1227 488h1v1h-1zM1228 489h1v1h-1zM1233 492h1v1h-1zM1236 494h1v1h-1zM1253 502h1v1h-1zM1256 504h1v1h-1zM1257 505h1v1h-1zM1260 507h1v1h-1zM1261 508h1v1h-1zM1264 510h1v1h-1zM1265 511h1v1h-1zM1325 533h1v1h-1zM1326 534h1v2h-1zM1327 536h1v1h-1zM1328 537h1v1h-1zM1329 538h1v1h-1zM1330 539h1v1h-1zM1331 540h1v1h-1zM1332 541h1v1h-1zM1333 542h1v1h-1zM1336 544h1v1h-1zM1337 545h1v1h-1zM1340 547h1v1h-1zM264 177h2v1h-2zM274 177h4v1h-4zM286 177h8v1h-8zM298 177h15v1h-15zM1110 480h3v1h-3zM87 88h7v1h-7zM527 308h2v1h-2zM731 448h2v1h-2zM590 368h2v1h-2zM594 368h12v1h-12zM910 500h4v1h-4zM918 500h4v1h-4zM1249 500h2v1h-2zM982 525h8v1h-8zM1006 525h3v1h-3zM1299 525h2v1h-2zM1018 519h2v1h-2zM1286 519h3v1h-3zM961 514h2v1h-2zM1026 514h2v1h-2zM1270 514h4v1h-4zM779 472h7v1h-7zM813 472h2v1h-2zM1122 472h2v1h-2zM1089 482h2v1h-2zM1094 482h8v1h-8zM1105 482h2v1h-2zM855 497h2v1h-2zM1049 497h2v1h-2zM1241 497h2v1h-2zM898 503h3v1h-3zM930 503h4v1h-4zM1043 503h2v1h-2zM1254 503h2v1h-2zM1058 493h3v1h-3zM1234 493h2v1h-2zM215 136h2v1h-2zM81 91h2v1h-2zM1086 483h3v1h-3zM1102 483h3v1h-3zM821 475h2v1h-2zM10 112h8v1h-8zM614 371h8v1h-8zM1314 529h4v1h-4zM278 176h8v1h-8zM294 176h4v1h-4zM522 305h2v1h-2zM882 507h8v1h-8zM951 507h2v1h-2zM85 89h2v1h-2zM94 89h12v1h-12zM1282 518h4v1h-4zM155 128h3v1h-3zM182 128h12v1h-12zM26 109h3v1h-3zM963 515h2v1h-2zM1274 515h3v1h-3zM510 303h11v1h-11zM901 502h2v1h-2zM926 502h4v1h-4zM975 523h3v1h-3zM1011 523h2v1h-2zM1295 523h2v1h-2zM230 146h2v1h-2zM870 506h12v1h-12zM890 506h3v1h-3zM949 506h2v1h-2zM1038 506h2v1h-2zM1258 506h2v1h-2zM1113 479h2v1h-2zM823 476h6v1h-6zM866 504h2v1h-2zM895 504h3v1h-3zM934 504h12v1h-12zM1041 504h2v1h-2zM853 496h2v1h-2zM1051 496h2v1h-2zM1239 496h2v1h-2zM146 124h2v1h-2zM749 458h2v1h-2zM1141 458h2v1h-2zM1187 458h2v1h-2zM958 512h2v1h-2zM1029 512h2v1h-2zM1266 512h2v1h-2zM63 103h2v1h-2zM1201 468h2v1h-2zM323 183h3v1h-3zM162 130h4v1h-4zM170 130h8v1h-8zM198 130h8v1h-8zM497 300h2v1h-2zM978 524h4v1h-4zM1009 524h2v1h-2zM1297 524h2v1h-2zM857 498h2v1h-2zM1243 498h3v1h-3zM316 180h2v1h-2zM226 143h2v1h-2zM1318 530h3v1h-3zM32 106h2v1h-2zM50 106h8v1h-8zM126 106h2v1h-2zM1053 495h2v1h-2zM1237 495h2v1h-2zM218 138h2v1h-2zM610 370h4v1h-4zM486 299h11v1h-11zM757 461h2v1h-2zM751 459h3v1h-3zM1189 459h2v1h-2zM142 121h2v1h-2zM4 111h6v1h-6zM18 111h4v1h-4zM742 454h3v1h-3zM1151 454h2v1h-2zM1179 454h2v1h-2zM422 255h2v1h-2zM1149 455h2v1h-2zM1181 455h2v1h-2zM729 447h2v1h-2zM734 450h2v1h-2zM1159 450h11v1h-11zM1070 488h7v1h-7zM862 501h2v1h-2zM903 501h7v1h-7zM922 501h4v1h-4zM1251 501h2v1h-2zM688 433h9v1h-9zM254 168h2v1h-2zM777 471h2v1h-2zM786 471h4v1h-4zM806 471h7v1h-7zM1207 471h2v1h-2zM213 135h2v1h-2zM166 131h4v1h-4zM206 131h3v1h-3zM83 90h2v1h-2zM106 90h3v1h-3zM138 118h2v1h-2zM34 105h4v1h-4zM46 105h4v1h-4zM58 105h3v1h-3zM1306 528h8v1h-8zM69 99h2v1h-2zM118 99h2v1h-2zM430 262h2v1h-2zM418 252h2v1h-2zM762 463h3v1h-3zM1134 463h2v1h-2zM1061 492h2v1h-2zM954 509h2v1h-2zM1034 509h2v1h-2zM1262 509h2v1h-2zM74 96h2v1h-2zM414 249h2v1h-2zM775 470h2v1h-2zM790 470h16v1h-16zM1205 470h2v1h-2zM366 213h2v1h-2zM723 446h6v1h-6zM582 362h2v1h-2zM266 178h8v1h-8zM969 520h2v1h-2zM1289 520h2v1h-2zM223 141h2v1h-2zM110 92h2v1h-2zM834 481h2v1h-2zM1091 481h3v1h-3zM1107 481h3v1h-3zM686 432h2v1h-2zM592 369h2v1h-2zM606 369h4v1h-4zM1143 457h3v1h-3zM1185 457h2v1h-2zM990 526h16v1h-16zM1301 526h2v1h-2zM578 359h2v1h-2zM633 376h2v1h-2zM850 494h2v1h-2zM1055 494h3v1h-3zM1081 485h2v1h-2zM1268 513h2v1h-2zM374 215h3v1h-3zM1021 517h2v1h-2zM1279 517h3v1h-3zM38 104h8v1h-8zM61 104h2v1h-2zM818 474h3v1h-3zM441 271h2v1h-2zM586 365h2v1h-2zM506 302h4v1h-4zM868 505h2v1h-2zM893 505h2v1h-2zM946 505h3v1h-3zM739 453h3v1h-3zM1153 453h2v1h-2zM1177 453h2v1h-2zM973 522h2v1h-2zM1013 522h2v1h-2zM1293 522h2v1h-2zM773 469h2v1h-2zM1126 469h2v1h-2zM1203 469h2v1h-2zM378 217h2v1h-2zM158 129h4v1h-4zM178 129h4v1h-4zM194 129h4v1h-4zM22 110h4v1h-4zM326 184h3v1h-3zM1130 466h2v1h-2zM1198 466h2v1h-2zM480 298h6v1h-6zM815 473h3v1h-3zM746 456h2v1h-2zM1146 456h3v1h-3zM1183 456h2v1h-2zM78 93h2v1h-2zM567 349h2v1h-2zM646 385h2v1h-2zM499 301h7v1h-7zM1023 516h2v1h-2zM1277 516h2v1h-2zM1031 511h2v1h-2zM1214 477h2v1h-2zM447 274h2v1h-2zM838 484h2v1h-2zM1083 484h3v1h-3zM1222 484h2v1h-2zM1170 449h3v1h-3zM1079 486h2v1h-2zM719 444h2v1h-2zM710 441h4v1h-4zM971 521h2v1h-2zM1015 521h2v1h-2zM1291 521h2v1h-2zM71 98h2v1h-2zM382 220h2v1h-2zM737 452h2v1h-2zM1155 452h2v1h-2zM721 445h2v1h-2zM767 465h2v1h-2zM330 186h2v1h-2zM629 374h2v1h-2zM1338 546h2v1h-2zM467 290h2v1h-2zM390 226h2v1h-2zM650 388h2v1h-2zM250 165h2v1h-2zM859 499h2v1h-2zM914 499h4v1h-4zM1246 499h3v1h-3zM1334 543h2v1h-2zM445 273h2v1h-2zM358 206h2v1h-2zM148 125h2v1h-2zM1067 489h3v1h-3zM759 462h3v1h-3zM765 464h2v1h-2zM454 279h2v1h-2zM394 229h2v1h-2zM434 265h2v1h-2zM530 310h2v1h-2zM343 196h2v1h-2zM770 467h2v1h-2zM1157 451h2v1h-2zM1174 451h2v1h-2zM66 101h2v1h-2zM450 276h2v1h-2zM643 383h2v1h-2zM842 487h2v1h-2zM1077 487h2v1h-2zM474 295h3v1h-3zM30 107h2v1h-2zM754 460h3v1h-3zM1138 460h2v1h-2zM1191 460h2v1h-2zM1303 527h3v1h-3zM717 443h2v1h-2zM334 189h2v1h-2zM535 313h2v1h-2zM635 377h2v1h-2zM626 373h3v1h-3zM321 182h2v1h-2zM641 382h2v1h-2zM443 272h2v1h-2zM472 294h2v1h-2zM350 201h2v1h-2zM368 214h6v1h-6zM714 442h3v1h-3zM622 372h4v1h-4zM346 198h2v1h-2zM631 375h2v1h-2zM830 478h2v1h-2zM1115 478h2v1h-2zM1065 490h2v1h-2zM1229 490h2v1h-2zM478 297h2v1h-2zM355 204h2v1h-2zM706 439h2v1h-2zM698 435h2v1h-2zM314 179h2v1h-2zM525 307h2v1h-2zM462 287h2v1h-2zM533 312h2v1h-2zM386 223h2v1h-2zM353 203h2v1h-2zM702 437h3v1h-3zM1323 532h2v1h-2zM153 127h2v1h-2zM465 289h2v1h-2zM1063 491h2v1h-2zM1231 491h2v1h-2zM708 440h2v1h-2zM1321 531h2v1h-2zM150 126h3v1h-3zM318 181h3v1h-3zM221 140h2v1h-2zM341 195h2v1h-2zM565 348h2v1h-2zM210 133h2v1h-2zM700 436h2v1h-2z"/>
<path fill="#ffa500" d="M4 95h1v1h-1zM5 96h1v1h-1zM6 97h1v1h-1zM7 98h1v1h-1zM8 99h1v1h-1zM9 100h1v2h-1zM10 102h1v1h-1zM11 103h1v2h-1zM12 105h1v1h-1zM13 106h1v1h-1zM14 107h1v2h-1zM15 109h1v1h-1zM16 110h1v1h-1zM21 113h1v1h-1zM22 114h1v1h-1zM23 115h1v1h-1zM24 116h1v1h-1zM29 113h1v1h-1zM30 112h1v1h-1zM31 111h1v1h-1zM32 110h1v1h-1zM33 109h1v1h-1zM34 107h1v2h-1zM35 106h1v1h-1zM36 105h1v1h-1zM37 104h1v1h-1zM40 102h1v1h-1zM41 101h1v1h-1zM61 99h1v1h-1zM64 97h1v1h-1zM65 96h1v1h-1zM66 94h1v2h-1zM67 93h1v1h-1zM68 92h1v1h-1zM69 91h1v1h-1zM70 89h1v2h-1zM71 88h1v1h-1zM72 87h1v1h-1zM73 85h1v2h-1zM74 83h1v2h-1zM75 81h1v2h-1zM76 80h1v1h-1zM92 77h1v1h-1zM93 78h1v2h-1zM94 80h1v3h-1zM95 83h1v2h-1zM96 85h1v2h-1zM97 87h1v1h-1zM98 88h1v2h-1zM99 90h1v1h-1zM100 91h1v1h-1zM101 92h1v2h-1zM102 94h1v1h-1zM103 95h1v2h-1zM104 97h1v2h-1zM105 99h1v3h-1zM106 102h1v2h-1zM107 104h1v3h-1zM108 107h1v2h-1zM109 109h1v2h-1zM110 111h1v2h-1zM111 113h1v2h-1zM112 115h1v2h-1zM113 117h1v2h-1zM114 119h1v1h-1zM115 120h1v2h-1zM116 122h1v1h-1zM117 123h1v1h-1zM118 124h1v2h-1zM119 126h1v1h-1zM120 127h1v1h-1zM121 128h1v2h-1zM122 130h1v2h-1zM123 132h1v2h-1zM124 134h1v1h-1zM133 133h1v1h-1zM141 130h1v1h-1zM142 129h1v1h-1zM143 128h1v1h-1zM144 127h1v1h-1zM161 127h1v1h-1zM164 129h1v1h-1zM165 130h1v1h-1zM166 131h1v1h-1zM167 132h1v1h-1zM181 131h1v1h-1zM184 129h1v1h-1zM185 128h1v1h-1zM186 127h1v1h-1zM187 126h1v1h-1zM209 135h1v2h-1zM210 137h1v1h-1zM211 138h1v2h-1zM212 140h1v1h-1zM213 141h1v2h-1zM214 143h1v1h-1zM215 144h1v2h-1zM216 146h1v1h-1zM217 147h1v2h-1zM218 149h1v2h-1zM219 151h1v2h-1zM220 153h1v3h-1zM221 156h1v2h-1zM222 158h1v2h-1zM223 160h1v2h-1zM224 162h1v2h-1zM225 164h1v2h-1zM226 166h1v2h-1zM227 168h1v2h-1zM228 170h1v1h-1zM257 181h1v1h-1zM273 180h1v1h-1zM274 178h1v2h-1zM275 177h1v1h-1zM276 176h1v1h-1zM277 175h1v1h-1zM280 173h1v1h-1zM281 172h1v1h-1zM282 171h1v1h-1zM283 170h1v1h-1zM297 172h1v1h-1zM298 173h1v2h-1zM299 175h1v1h-1zM300 176h1v1h-1zM309 181h1v1h-1zM312 183h1v2h-1zM313 185h1v2h-1zM314 187h1v3h-1zM315 190h1v2h-1zM316 192h1v2h-1zM317 194h1v1h-1zM318 195h1v1h-1zM319 196h1v1h-1zM320 197h1v1h-1zM329 201h1v1h-1zM341 205h1v1h-1zM344 207h1v1h-1zM345 208h1v1h-1zM346 209h1v1h-1zM347 210h1v1h-1zM348 211h1v1h-1zM357 215h1v1h-1zM360 217h1v1h-1zM361 218h1v1h-1zM362 219h1v1h-1zM363 220h1v1h-1zM364 221h1v1h-1zM365 222h1v1h-1zM366 223h1v1h-1zM367 224h1v1h-1zM368 225h1v1h-1zM369 226h1v1h-1zM385 230h1v1h-1zM388 232h1v1h-1zM389 233h1v1h-1zM390 234h1v1h-1zM391 235h1v1h-1zM392 236h1v1h-1zM393 237h1v2h-1zM394 239h1v2h-1zM395 241h1v2h-1zM396 243h1v2h-1zM397 245h1v2h-1zM398 247h1v1h-1zM399 248h1v2h-1zM400 250h1v1h-1zM401 251h1v2h-1zM402 253h1v2h-1zM403 255h1v2h-1zM404 257h1v2h-1zM405 259h1v2h-1zM406 261h1v2h-1zM407 263h1v2h-1zM408 265h1v1h-1zM409 266h1v2h-1zM410 268h1v1h-1zM411 269h1v2h-1zM412 271h1v1h-1zM449 278h1v1h-1zM450 279h1v2h-1zM451 281h1v1h-1zM452 282h1v1h-1zM453 283h1v2h-1zM454 285h1v2h-1zM455 287h1v2h-1zM456 289h1v2h-1zM457 291h1v2h-1zM458 293h1v3h-1zM459 296h1v2h-1zM460 298h1v3h-1zM461 301h1v2h-1zM462 303h1v2h-1zM463 305h1v2h-1zM464 307h1v2h-1zM465 309h1v2h-1zM466 311h1v2h-1zM467 313h1v2h-1zM468 315h1v2h-1zM469 317h1v1h-1zM470 318h1v1h-1zM471 319h1v1h-1zM472 320h1v1h-1zM473 319h1v1h-1zM476 317h1v1h-1zM477 316h1v1h-1zM478 315h1v1h-1zM479 314h1v1h-1zM480 313h1v1h-1zM481 311h1v2h-1zM482 309h1v2h-1zM483 307h1v2h-1zM484 306h1v1h-1zM485 304h1v2h-1zM486 302h1v2h-1zM487 300h1v2h-1zM488 298h1v2h-1zM489 296h1v2h-1zM490 295h1v1h-1zM491 293h1v2h-1zM492 292h1v1h-1zM493 291h1v1h-1zM496 289h1v1h-1zM497 288h1v1h-1zM498 287h1v1h-1zM499 286h1v1h-1zM505 285h1v2h-1zM506 287h1v1h-1zM507 288h1v2h-1zM508 290h1v2h-1zM509 292h1v2h-1zM510 294h1v3h-1zM511 297h1v2h-1zM512 299h1v3h-1zM513 302h1v2h-1zM514 304h1v2h-1zM515 306h1v2h-1zM516 308h1v2h-1zM517 310h1v2h-1zM518 312h1v2h-1zM519 314h1v2h-1zM520 316h1v2h-1zM521 318h1v3h-1zM522 321h1v4h-1zM523 325h1v3h-1zM524 328h1v2h-1zM525 330h1v2h-1zM526 332h1v2h-1zM527 334h1v2h-1zM528 336h1v1h-1zM536 341h1v1h-1zM537 342h1v2h-1zM538 344h1v2h-1zM539 346h1v2h-1zM540 348h1v2h-1zM541 350h1v1h-1zM542 351h1v1h-1zM543 352h1v1h-1zM553 352h1v1h-1zM556 354h1v1h-1zM557 353h1v1h-1zM558 352h1v1h-1zM559 351h1v1h-1zM565 351h1v2h-1zM566 353h1v1h-1zM567 354h1v2h-1zM568 356h1v1h-1zM569 357h1v2h-1zM570 359h1v2h-1zM571 361h1v2h-1zM572 363h1v2h-1zM573 365h1v2h-1zM574 367h1v1h-1zM575 368h1v2h-1zM576 370h1v2h-1zM577 372h1v2h-1zM578 374h1v3h-1zM579 377h1v2h-1zM580 379h1v2h-1zM581 381h1v1h-1zM584 383h1v1h-1zM585 384h1v1h-1zM593 385h1v2h-1zM594 384h1v1h-1zM595 382h1v2h-1zM596 381h1v1h-1zM597 379h1v2h-1zM598 377h1v2h-1zM599 375h1v2h-1zM600 374h1v1h-1zM601 372h1v2h-1zM602 370h1v2h-1zM603 368h1v2h-1zM604 366h1v2h-1zM605 364h1v2h-1zM606 363h1v1h-1zM607 361h1v2h-1zM608 360h1v1h-1zM609 359h1v1h-1zM610 358h1v1h-1zM611 357h1v1h-1zM621 360h1v2h-1zM622 362h1v1h-1zM623 363h1v2h-1zM624 365h1v2h-1zM625 367h1v2h-1zM626 369h1v2h-1zM627 371h1v2h-1zM628 373h1v3h-1zM629 376h1v3h-1zM630 379h1v2h-1zM631 381h1v3h-1zM632 384h1v3h-1zM633 387h1v3h-1zM634 390h1v4h-1zM635 394h1v3h-1zM636 397h1v3h-1zM637 400h1v3h-1zM638 403h1v4h-1zM639 407h1v3h-1zM640 410h1v2h-1zM641 412h1v2h-1zM642 414h1v1h-1zM643 415h1v2h-1zM644 417h1v1h-1zM645 418h1v1h-1zM646 419h1v2h-1zM647 421h1v1h-1zM661 418h1v1h-1zM664 420h1v1h-1zM665 421h1v1h-1zM668 423h1v2h-1zM669 425h1v2h-1zM670 427h1v2h-1zM671 429h1v2h-1zM672 431h1v2h-1zM673 433h1v2h-1zM674 435h1v1h-1zM675 436h1v2h-1zM676 438h1v1h-1zM677 439h1v1h-1zM678 440h1v1h-1zM679 441h1v1h-1zM680 442h1v1h-1zM681 443h1v1h-1zM682 444h1v2h-1zM683 446h1v1h-1zM684 447h1v1h-1zM685 448h1v1h-1zM688 450h1v1h-1zM689 449h1v1h-1zM690 448h1v1h-1zM691 447h1v1h-1zM692 446h1v1h-1zM693 445h1v1h-1zM717 443h1v1h-1zM725 447h1v1h-1zM726 448h1v1h-1zM727 449h1v1h-1zM728 450h1v1h-1zM729 451h1v2h-1zM730 453h1v2h-1zM731 455h1v2h-1zM732 457h1v2h-1zM733 459h1v2h-1zM734 461h1v2h-1zM735 463h1v2h-1zM736 465h1v2h-1zM737 467h1v1h-1zM738 468h1v1h-1zM739 469h1v1h-1zM740 470h1v1h-1zM741 471h1v1h-1zM742 472h1v1h-1zM743 473h1v1h-1zM749 474h1v1h-1zM752 472h1v1h-1zM753 471h1v1h-1zM756 469h1v1h-1zM769 466h1v1h-1zM770 467h1v1h-1zM771 468h1v1h-1zM772 469h1v1h-1zM773 470h1v1h-1zM776 472h1v1h-1zM789 474h1v1h-1zM790 473h1v1h-1zM791 472h1v1h-1zM792 471h1v1h-1zM813 473h1v1h-1zM816 475h1v1h-1zM817 476h1v1h-1zM820 478h1v1h-1zM825 481h1v1h-1zM826 482h1v1h-1zM827 483h1v1h-1zM828 484h1v2h-1zM829 486h1v2h-1zM830 488h1v2h-1zM831 490h1v2h-1zM832 492h1v2h-1zM833 494h1v2h-1zM834 496h1v2h-1zM835 498h1v2h-1zM836 500h1v2h-1zM837 502h1v2h-1zM838 504h1v1h-1zM839 505h1v2h-1zM840 507h1v1h-1zM841 508h1v1h-1zM844 510h1v1h-1zM845 511h1v2h-1zM846 513h1v1h-1zM847 514h1v2h-1zM848 516h1v1h-1zM853 513h1v1h-1zM854 511h1v2h-1zM855 510h1v1h-1zM877 503h1v1h-1zM878 502h1v1h-1zM879 501h1v1h-1zM880 500h1v1h-1zM909 496h1v1h-1zM912 494h1v1h-1zM917 497h1v2h-1zM918 499h1v2h-1zM919 501h1v2h-1zM920 503h1v1h-1zM921 504h1v1h-1zM922 505h1v2h-1zM923 507h1v1h-1zM929 509h1v1h-1zM930 510h1v1h-1zM931 511h1v1h-1zM937 512h1v1h-1zM938 511h1v1h-1zM939 510h1v1h-1zM940 509h1v1h-1zM949 510h1v1h-1zM952 512h1v1h-1zM953 513h1v1h-1zM954 514h1v2h-1zM955 516h1v1h-1zM956 517h1v1h-1zM957 518h1v2h-1zM958 520h1v1h-1zM959 521h1v2h-1zM960 523h1v1h-1zM961 524h1v2h-1zM962 526h1v1h-1zM963 527h1v2h-1zM964 529h1v1h-1zM965 530h1v1h-1zM966 531h1v1h-1zM967 532h1v1h-1zM968 533h1v1h-1zM969 534h1v1h-1zM972 536h1v1h-1zM981 538h1v1h-1zM982 537h1v1h-1zM983 536h1v1h-1zM984 535h1v1h-1zM985 533h1v2h-1zM986 532h1v1h-1zM987 530h1v2h-1zM988 529h1v1h-1zM989 528h1v1h-1zM992 526h1v1h-1zM993 524h1v2h-1zM994 522h1v2h-1zM995 520h1v2h-1zM996 519h1v1h-1zM997 517h1v2h-1zM998 516h1v1h-1zM999 514h1v2h-1zM1000 513h1v1h-1zM1037 502h1v1h-1zM1038 501h1v1h-1zM1039 500h1v1h-1zM1040 499h1v1h-1zM1041 497h1v2h-1zM1042 496h1v1h-1zM1043 494h1v2h-1zM1044 492h1v2h-1zM1045 490h1v2h-1zM1046 488h1v2h-1zM1047 486h1v2h-1zM1048 484h1v2h-1zM1049 483h1v1h-1zM1050 481h1v2h-1zM1051 480h1v1h-1zM1052 479h1v1h-1zM1053 478h1v1h-1zM1054 476h1v2h-1zM1055 475h1v1h-1zM1056 474h1v1h-1zM1057 475h1v1h-1zM1060 477h1v1h-1zM1065 480h1v2h-1zM1066 482h1v1h-1zM1067 483h1v2h-1zM1101 481h1v1h-1zM1104 479h1v1h-1zM1105 478h1v1h-1zM1106 477h1v1h-1zM1107 476h1v1h-1zM1108 475h1v1h-1zM1109 474h1v1h-1zM1110 472h1v2h-1zM1111 471h1v1h-1zM1112 470h1v1h-1zM1113 469h1v1h-1zM1114 468h1v1h-1zM1115 467h1v1h-1zM1116 466h1v1h-1zM1117 464h1v2h-1zM1118 462h1v2h-1zM1119 460h1v2h-1zM1120 458h1v2h-1zM1121 456h1v2h-1zM1122 455h1v1h-1zM1123 453h1v2h-1zM1124 452h1v1h-1zM1129 449h1v1h-1zM1130 448h1v1h-1zM1131 447h1v1h-1zM1132 446h1v1h-1zM1133 445h1v1h-1zM1145 446h1v1h-1zM1148 448h1v1h-1zM1149 449h1v1h-1zM1152 451h1v1h-1zM1173 454h1v1h-1zM1174 455h1v1h-1zM1175 456h1v1h-1zM1176 457h1v1h-1zM1177 458h1v1h-1zM1178 459h1v1h-1zM1179 460h1v1h-1zM1180 461h1v1h-1zM1181 462h1v1h-1zM1182 463h1v2h-1zM1183 465h1v1h-1zM1184 466h1v1h-1zM1185 467h1v1h-1zM1188 469h1v1h-1zM1189 470h1v1h-1zM1190 471h1v1h-1zM1191 472h1v1h-1zM1192 473h1v1h-1zM1193 474h1v1h-1zM1194 475h1v1h-1zM1195 476h1v1h-1zM1196 477h1v1h-1zM1197 478h1v1h-1zM1198 479h1v1h-1zM1199 480h1v1h-1zM1200 481h1v1h-1zM1201 482h1v1h-1zM1202 483h1v1h-1zM1203 484h1v1h-1zM1204 485h1v1h-1zM1205 486h1v1h-1zM1206 487h1v2h-1zM1207 489h1v1h-1zM1208 490h1v1h-1zM1213 493h1v1h-1zM1216 495h1v1h-1zM1225 500h1v1h-1zM1228 502h1v1h-1zM1253 503h1v2h-1zM1254 505h1v2h-1zM1255 507h1v2h-1zM1256 509h1v1h-1zM1257 510h1v2h-1zM1258 512h1v2h-1zM1259 514h1v2h-1zM1260 516h1v2h-1zM1261 518h1v2h-1zM1262 520h1v2h-1zM1263 522h1v2h-1zM1264 524h1v2h-1zM1265 526h1v2h-1zM1266 528h1v2h-1zM1267 530h1v2h-1zM1273 532h1v1h-1zM1274 530h1v2h-1zM1275 529h1v1h-1zM1276 528h1v1h-1zM1281 525h1v1h-1zM1282 524h1v1h-1zM1283 523h1v1h-1zM1284 522h1v1h-1zM1289 521h1v1h-1zM1290 522h1v2h-1zM1291 524h1v1h-1zM1292 525h1v1h-1zM1313 531h1v1h-1zM1316 533h1v1h-1zM1317 534h1v2h-1zM1318 536h1v2h-1zM1319 538h1v2h-1zM1320 540h1v1h-1zM1321 541h1v2h-1zM1322 543h1v2h-1zM1323 545h1v2h-1zM1324 547h1v2h-1zM1325 549h1v2h-1zM1326 551h1v2h-1zM1327 553h1v2h-1zM1328 555h1v2h-1zM1329 557h1v2h-1zM1330 559h1v2h-1zM1331 561h1v2h-1zM1332 563h1v1h-1zM1333 564h1v1h-1zM1334 565h1v1h-1zM1335 566h1v1h-1zM1336 567h1v1h-1zM910 495h2v1h-2zM913 495h2v1h-2zM657 418h2v1h-2zM1011 510h2v1h-2zM849 515h2v1h-2zM774 471h2v1h-2zM809 471h2v1h-2zM1031 502h3v1h-3zM1247 502h6v1h-6zM1090 483h4v1h-4zM795 469h7v1h-7zM653 420h2v1h-2zM19 112h2v1h-2zM62 98h2v1h-2zM1339 569h2v1h-2zM1311 530h2v1h-2zM136 131h5v1h-5zM201 131h2v1h-2zM134 132h2v1h-2zM178 132h3v1h-3zM203 132h2v1h-2zM686 449h2v1h-2zM1155 453h3v1h-3zM1166 453h7v1h-7zM783 476h3v1h-3zM1058 476h2v1h-2zM694 444h2v1h-2zM718 444h2v1h-2zM1134 444h2v1h-2zM1141 444h2v1h-2zM162 128h2v1h-2zM195 128h2v1h-2zM590 387h3v1h-3zM42 100h2v1h-2zM49 100h2v1h-2zM59 100h2v1h-2zM869 506h2v1h-2zM1022 506h3v1h-3zM421 276h2v1h-2zM426 276h3v1h-3zM435 276h3v1h-3zM330 202h2v1h-2zM334 202h3v1h-3zM757 468h2v1h-2zM1186 468h2v1h-2zM258 182h2v1h-2zM267 182h3v1h-3zM310 182h2v1h-2zM932 512h2v1h-2zM1001 512h2v1h-2zM1006 512h3v1h-3zM332 203h2v1h-2zM337 203h2v1h-2zM323 199h3v1h-3zM871 505h3v1h-3zM1025 505h2v1h-2zM1234 505h8v1h-8zM245 176h2v1h-2zM423 277h3v1h-3zM438 277h11v1h-11zM990 527h2v1h-2zM1277 527h2v1h-2zM1295 527h11v1h-11zM233 173h2v1h-2zM238 173h3v1h-3zM818 477h2v1h-2zM915 496h2v1h-2zM1217 496h2v1h-2zM907 497h2v1h-2zM1219 497h2v1h-2zM560 350h5v1h-5zM881 499h2v1h-2zM886 499h3v1h-3zM902 499h3v1h-3zM1223 499h2v1h-2zM1279 526h2v1h-2zM1293 526h2v1h-2zM889 500h2v1h-2zM894 500h8v1h-8zM326 200h3v1h-3zM86 75h4v1h-4zM1211 492h2v1h-2zM950 511h2v1h-2zM1003 511h3v1h-3zM1009 511h2v1h-2zM883 498h3v1h-3zM905 498h2v1h-2zM1221 498h2v1h-2zM286 170h8v1h-8zM235 174h3v1h-3zM241 174h2v1h-2zM278 174h2v1h-2zM1068 485h2v1h-2zM1082 485h4v1h-4zM228 171h2v1h-2zM294 171h3v1h-3zM374 229h11v1h-11zM494 290h2v1h-2zM1070 486h3v1h-3zM1079 486h3v1h-3zM249 178h2v1h-2zM303 178h2v1h-2zM614 357h3v1h-3zM130 134h3v1h-3zM170 134h4v1h-4zM207 134h2v1h-2zM842 509h2v1h-2zM856 509h2v1h-2zM862 509h3v1h-3zM947 509h2v1h-2zM1013 509h2v1h-2zM851 514h2v1h-2zM535 340h2v1h-2zM544 353h2v1h-2zM554 353h2v1h-2zM1086 484h4v1h-4zM284 169h2v1h-2zM502 284h3v1h-3zM858 508h4v1h-4zM865 508h2v1h-2zM924 508h5v1h-5zM941 508h2v1h-2zM945 508h2v1h-2zM1015 508h3v1h-3zM1209 491h2v1h-2zM78 78h3v1h-3zM811 472h2v1h-2zM1094 482h7v1h-7zM705 441h2v1h-2zM709 441h2v1h-2zM874 504h3v1h-3zM1027 504h2v1h-2zM1231 504h3v1h-3zM1242 504h3v1h-3zM582 382h2v1h-2zM419 275h2v1h-2zM429 275h2v1h-2zM433 275h2v1h-2zM168 133h2v1h-2zM174 133h4v1h-4zM205 133h2v1h-2zM1214 494h2v1h-2zM1158 454h8v1h-8zM1075 488h2v1h-2zM750 473h2v1h-2zM777 473h2v1h-2zM617 358h2v1h-2zM413 272h2v1h-2zM145 126h2v1h-2zM158 126h3v1h-3zM190 126h3v1h-3zM978 539h3v1h-3zM1287 520h2v1h-2zM1268 532h2v1h-2zM1314 532h2v1h-2zM867 507h2v1h-2zM943 507h2v1h-2zM1018 507h4v1h-4zM1127 450h2v1h-2zM1150 450h2v1h-2zM722 446h3v1h-3zM1061 478h2v1h-2zM531 338h2v1h-2zM891 501h3v1h-3zM1226 501h2v1h-2zM533 339h2v1h-2zM124 135h6v1h-6zM1270 533h3v1h-3zM744 474h2v1h-2zM779 474h2v1h-2zM814 474h2v1h-2zM759 467h3v1h-3zM1125 451h2v1h-2zM44 99h5v1h-5zM766 465h3v1h-3zM696 443h6v1h-6zM1136 443h5v1h-5zM586 385h2v1h-2zM588 386h2v1h-2zM1306 528h3v1h-3zM1309 529h2v1h-2zM1285 521h2v1h-2zM550 351h3v1h-3zM707 440h2v1h-2zM76 79h2v1h-2zM702 442h3v1h-3zM711 442h6v1h-6zM321 198h2v1h-2zM262 184h3v1h-3zM83 76h3v1h-3zM90 76h3v1h-3zM254 180h3v1h-3zM307 180h2v1h-2zM754 470h2v1h-2zM793 470h2v1h-2zM802 470h7v1h-7zM386 231h2v1h-2zM746 475h3v1h-3zM781 475h2v1h-2zM786 475h3v1h-3zM51 101h3v1h-3zM57 101h2v1h-2zM27 114h2v1h-2zM260 183h2v1h-2zM265 183h2v1h-2zM230 172h3v1h-3zM197 129h2v1h-2zM182 130h2v1h-2zM199 130h2v1h-2zM762 466h4v1h-4zM474 318h2v1h-2zM934 513h3v1h-3zM546 352h4v1h-4zM193 127h2v1h-2zM612 356h2v1h-2zM38 103h2v1h-2zM619 359h2v1h-2zM417 274h2v1h-2zM431 274h2v1h-2zM821 479h2v1h-2zM1063 479h2v1h-2zM147 125h3v1h-3zM154 125h4v1h-4zM188 125h2v1h-2zM500 285h2v1h-2zM251 179h3v1h-3zM305 179h2v1h-2zM1029 503h2v1h-2zM1034 503h3v1h-3zM1229 503h2v1h-2zM1245 503h2v1h-2zM655 419h2v1h-2zM662 419h2v1h-2zM650 421h3v1h-3zM1073 487h2v1h-2zM1077 487h2v1h-2zM975 538h3v1h-3zM247 177h2v1h-2zM301 177h2v1h-2zM1146 447h2v1h-2zM358 216h2v1h-2zM25 115h2v1h-2zM415 273h2v1h-2zM150 124h4v1h-4zM973 537h2v1h-2zM81 77h2v1h-2zM823 480h2v1h-2zM1102 480h2v1h-2zM659 417h2v1h-2zM17 111h2v1h-2zM342 206h2v1h-2zM529 337h2v1h-2zM1337 568h2v1h-2zM54 102h3v1h-3zM349 212h2v1h-2zM339 204h2v1h-2zM270 181h3v1h-3zM648 422h2v1h-2zM666 422h2v1h-2zM243 175h2v1h-2zM970 535h2v1h-2zM1153 452h2v1h-2zM370 227h2v1h-2zM351 213h3v1h-3zM354 214h3v1h-3zM720 445h2v1h-2zM1143 445h2v1h-2zM372 228h2v1h-2z"/>
</g>
<rect x="4" y="323" width="1680" height="2" fill="#ff0000"/>
<rect x="3" y="321" width="6" height="6" fill="#ff0000"/><rect x="5" y="323" width="2" height="2" fill="#fff"/>
<rect x="1678" y="321" width="6" height="6" fill="#ff0000"/><rect x="1680" y="323" width="2" height="2" fill="#fff"/>
<rect x="4" y="406" width="1680" height="2" fill="#ff0000"/>
<rect x="3" y="404" width="6" height="6" fill="#ff0000"/><rect x="5" y="406" width="2" height="2" fill="#fff"/>
<rect x="1678" y="404" width="6" height="6" fill="#ff0000"/><rect x="1680" y="406" width="2" height="2" fill="#fff"/>
<rect x="4" y="473" width="1680" height="2" fill="#00ff00"/>
<rect x="3" y="471" width="6" height="6" fill="#00ff00"/><rect x="5" y="473" width="2" height="2" fill="#fff"/>
<rect x="1678" y="471" width="6" height="6" fill="#00ff00"/><rect x="1680" y="473" width="2" height="2" fill="#fff"/>
<rect x="4" y="548" width="1680" height="2" fill="#0000ff"/>
<rect x="3" y="546" width="6" height="6" fill="#0000ff"/><rect x="5" y="548" width="2" height="2" fill="#fff"/>
<rect x="1678" y="546" width="6" height="6" fill="#0000ff"/><rect x="1680" y="548" width="2" height="2" fill="#fff"/>
<rect x="4" y="568" width="1680" height="1" fill="#c0c0c0"/>
<path d="M1342 27h9l-4.5 4.5z" fill="#b4b4b4"/>
<path d="M7 33h7l-3.5 4z" fill="#000"/>
<text x="19" y="38" font-family='"DejaVu Sans Condensed", "DejaVu Sans", "Liberation Sans", sans-serif' font-size="10" fill="#000" textLength="66" lengthAdjust="spacingAndGlyphs">USDCNH,Daily</text>
<text x="91" y="38" font-family='"DejaVu Sans Condensed", "DejaVu Sans", "Liberation Sans", sans-serif' font-size="10" fill="#000" textLength="141" lengthAdjust="spacingAndGlyphs">6.36976 6.37353 6.35944 6.36912</text>
<rect x="1685" y="29" width="2" height="1" fill="#000"/>
<text x="1690" y="33" font-family='"DejaVu Sans Condensed", "DejaVu Sans", "Liberation Sans", sans-serif' font-size="9.4" fill="#000" textLength="32.5" lengthAdjust="spacingAndGlyphs">7.23590</text>
<rect x="1685" y="62" width="2" height="1" fill="#000"/>
<text x="1690" y="66" font-family='"DejaVu Sans Condensed", "DejaVu Sans", "Liberation Sans", sans-serif' font-size="9.4" fill="#000" textLength="32.5" lengthAdjust="spacingAndGlyphs">7.18150</text>
<rect x="1685" y="95" width="2" height="1" fill="#000"/>
<text x="1690" y="99" font-family='"DejaVu Sans Condensed", "DejaVu Sans", "Liberation Sans", sans-serif' font-size="9.4" fill="#000" textLength="32.5" lengthAdjust="spacingAndGlyphs">7.12870</text>
<rect x="1685" y="128" width="2" height="1" fill="#000"/>
<text x="1690" y="132" font-family='"DejaVu Sans Condensed", "DejaVu Sans", "Liberation Sans", sans-serif' font-size="9.4" fill="#000" textLength="32.5" lengthAdjust="spacingAndGlyphs">7.07590</text>
<rect x="1685" y="161" width="2" height="1" fill="#000"/>
<text x="1690" y="165" font-family='"DejaVu Sans Condensed", "DejaVu Sans", "Liberation Sans", sans-serif' font-size="9.4" fill="#000" textLength="32.5" lengthAdjust="spacingAndGlyphs">7.02310</text>
<rect x="1685" y="194" width="2" height="1" fill="#000"/>
<text x="1690" y="198" font-family='"DejaVu Sans Condensed", "DejaVu Sans", "Liberation Sans", sans-serif' font-size="9.4" fill="#000" textLength="32.5" lengthAdjust="spacingAndGlyphs">6.97030</text>
<rect x="1685" y="227" width="2" height="1" fill="#000"/>
<text x="1690" y="231" font-family='"DejaVu Sans Condensed", "DejaVu Sans", "Liberation Sans", sans-serif' font-size="9.4" fill="#000" textLength="32.5" lengthAdjust="spacingAndGlyphs">6.91750</text>
<rect x="1685" y="260" width="2" height="1" fill="#000"/>
<text x="1690" y="264" font-family='"DejaVu Sans Condensed", "DejaVu Sans", "Liberation Sans", sans-serif' font-size="9.4" fill="#000" textLength="32.5" lengthAdjust="spacingAndGlyphs">6.86470</text>
<rect x="1685" y="293" width="2" height="1" fill="#000"/>
<text x="1690" y="297" font-family='"DejaVu Sans Condensed", "DejaVu Sans", "Liberation Sans", sans-serif' font-size="9.4" fill="#000" textLength="32.5" lengthAdjust="spacingAndGlyphs">6.81190</text>
<rect x="1685" y="326" width="2" height="1" fill="#000"/>
<text x="1690" y="330" font-family='"DejaVu Sans Condensed", "DejaVu Sans", "Liberation Sans", sans-serif' font-size="9.4" fill="#000" textLength="32.5" lengthAdjust="spacingAndGlyphs">6.75910</text>
<rect x="1685" y="359" width="2" height="1" fill="#000"/>
<text x="1690" y="363" font-family='"DejaVu Sans Condensed", "DejaVu Sans", "Liberation Sans", sans-serif' font-size="9.4" fill="#000" textLength="32.5" lengthAdjust="spacingAndGlyphs">6.70470</text>
<rect x="1685" y="392" width="2" height="1" fill="#000"/>
<text x="1690" y="396" font-family='"DejaVu Sans Condensed", "DejaVu Sans", "Liberation Sans", sans-serif' font-size="9.4" fill="#000" textLength="32.5" lengthAdjust="spacingAndGlyphs">6.65190</text>
<rect x="1685" y="425" width="2" height="1" fill="#000"/>
<text x="1690" y="429" font-family='"DejaVu Sans Condensed", "DejaVu Sans", "Liberation Sans", sans-serif' font-size="9.4" fill="#000" textLength="32.5" lengthAdjust="spacingAndGlyphs">6.59910</text>
<rect x="1685" y="458" width="2" height="1" fill="#000"/>
<text x="1690" y="462" font-family='"DejaVu Sans Condensed", "DejaVu Sans", "Liberation Sans", sans-serif' font-size="9.4" fill="#000" textLength="32.5" lengthAdjust="spacingAndGlyphs">6.54630</text>
<rect x="1685" y="491" width="2" height="1" fill="#000"/>
<text x="1690" y="495" font-family='"DejaVu Sans Condensed", "DejaVu Sans", "Liberation Sans", sans-serif' font-size="9.4" fill="#000" textLength="32.5" lengthAdjust="spacingAndGlyphs">6.49350</text>
<rect x="1685" y="524" width="2" height="1" fill="#000"/>
<text x="1690" y="528" font-family='"DejaVu Sans Condensed", "DejaVu Sans", "Liberation Sans", sans-serif' font-size="9.4" fill="#000" textLength="32.5" lengthAdjust="spacingAndGlyphs">6.44070</text>
<rect x="1685" y="557" width="2" height="1" fill="#000"/>
<text x="1690" y="561" font-family='"DejaVu Sans Condensed", "DejaVu Sans", "Liberation Sans", sans-serif' font-size="9.4" fill="#000" textLength="32.5" lengthAdjust="spacingAndGlyphs">6.38790</text>
<rect x="1685" y="590" width="2" height="1" fill="#000"/>
<text x="1690" y="594" font-family='"DejaVu Sans Condensed", "DejaVu Sans", "Liberation Sans", sans-serif' font-size="9.4" fill="#000" textLength="32.5" lengthAdjust="spacingAndGlyphs">6.33510</text>
<rect x="1686" y="318" width="40" height="11" fill="#ff0000"/>
<text x="1690" y="327" font-family='"DejaVu Sans Condensed", "DejaVu Sans", "Liberation Sans", sans-serif' font-size="9.4" fill="#fff" textLength="32.5" lengthAdjust="spacingAndGlyphs">6.76156</text>
<rect x="1686" y="401" width="40" height="11" fill="#ff0000"/>
<text x="1690" y="410" font-family='"DejaVu Sans Condensed", "DejaVu Sans", "Liberation Sans", sans-serif' font-size="9.4" fill="#fff" textLength="32.5" lengthAdjust="spacingAndGlyphs">6.62849</text>
<rect x="1686" y="468" width="40" height="11" fill="#00ff00"/>
<text x="1690" y="477" font-family='"DejaVu Sans Condensed", "DejaVu Sans", "Liberation Sans", sans-serif' font-size="9.4" fill="#fff" textLength="32.5" lengthAdjust="spacingAndGlyphs">6.52108</text>
<rect x="1686" y="543" width="40" height="11" fill="#0000ff"/>
<text x="1690" y="552" font-family='"DejaVu Sans Condensed", "DejaVu Sans", "Liberation Sans", sans-serif' font-size="9.4" fill="#fff" textLength="32.5" lengthAdjust="spacingAndGlyphs">6.40084</text>
<rect x="1686" y="563" width="40" height="11" fill="#000000"/>
<text x="1690" y="572" font-family='"DejaVu Sans Condensed", "DejaVu Sans", "Liberation Sans", sans-serif' font-size="9.4" fill="#fff" textLength="32.5" lengthAdjust="spacingAndGlyphs">6.36912</text>
<g clip-path="url(#cr)">
<path fill="#c0c0c0" d="M5 627h3v1h-3zM11 627h3v1h-3zM17 627h3v1h-3zM23 627h3v1h-3zM29 627h3v1h-3zM35 627h3v1h-3zM41 627h3v1h-3zM47 627h3v1h-3zM53 627h3v1h-3zM59 627h3v1h-3zM65 627h3v1h-3zM71 627h3v1h-3zM77 627h3v1h-3zM83 627h3v1h-3zM89 627h3v1h-3zM95 627h3v1h-3zM101 627h3v1h-3zM107 627h3v1h-3zM113 627h3v1h-3zM119 627h3v1h-3zM125 627h3v1h-3zM131 627h3v1h-3zM137 627h3v1h-3zM143 627h3v1h-3zM149 627h3v1h-3zM155 627h3v1h-3zM161 627h3v1h-3zM167 627h3v1h-3zM173 627h3v1h-3zM179 627h3v1h-3zM185 627h3v1h-3zM191 627h3v1h-3zM197 627h3v1h-3zM203 627h3v1h-3zM209 627h3v1h-3zM215 627h3v1h-3zM221 627h3v1h-3zM227 627h3v1h-3zM233 627h3v1h-3zM239 627h3v1h-3zM245 627h3v1h-3zM251 627h3v1h-3zM257 627h3v1h-3zM263 627h3v1h-3zM269 627h3v1h-3zM275 627h3v1h-3zM281 627h3v1h-3zM287 627h3v1h-3zM293 627h3v1h-3zM299 627h3v1h-3zM305 627h3v1h-3zM311 627h3v1h-3zM317 627h3v1h-3zM323 627h3v1h-3zM329 627h3v1h-3zM335 627h3v1h-3zM341 627h3v1h-3zM347 627h3v1h-3zM353 627h3v1h-3zM359 627h3v1h-3zM365 627h3v1h-3zM371 627h3v1h-3zM377 627h3v1h-3zM383 627h3v1h-3zM389 627h3v1h-3zM395 627h3v1h-3zM401 627h3v1h-3zM407 627h3v1h-3zM413 627h3v1h-3zM419 627h3v1h-3zM425 627h3v1h-3zM431 627h3v1h-3zM437 627h3v1h-3zM443 627h3v1h-3zM449 627h3v1h-3zM455 627h3v1h-3zM461 627h3v1h-3zM467 627h3v1h-3zM473 627h3v1h-3zM479 627h3v1h-3zM485 627h3v1h-3zM491 627h3v1h-3zM497 627h3v1h-3zM503 627h3v1h-3zM509 627h3v1h-3zM515 627h3v1h-3zM521 627h3v1h-3zM527 627h3v1h-3zM533 627h3v1h-3zM539 627h3v1h-3zM545 627h3v1h-3zM551 627h3v1h-3zM557 627h3v1h-3zM563 627h3v1h-3zM569 627h3v1h-3zM575 627h3v1h-3zM581 627h3v1h-3zM587 627h3v1h-3zM593 627h3v1h-3zM599 627h3v1h-3zM605 627h3v1h-3zM611 627h3v1h-3zM617 627h3v1h-3zM623 627h3v1h-3zM629 627h3v1h-3zM635 627h3v1h-3zM641 627h3v1h-3zM647 627h3v1h-3zM653 627h3v1h-3zM659 627h3v1h-3zM665 627h3v1h-3zM671 627h3v1h-3zM677 627h3v1h-3zM683 627h3v1h-3zM689 627h3v1h-3zM695 627h3v1h-3zM701 627h3v1h-3zM707 627h3v1h-3zM713 627h3v1h-3zM719 627h3v1h-3zM725 627h3v1h-3zM731 627h3v1h-3zM737 627h3v1h-3zM743 627h3v1h-3zM749 627h3v1h-3zM755 627h3v1h-3zM761 627h3v1h-3zM767 627h3v1h-3zM773 627h3v1h-3zM779 627h3v1h-3zM785 627h3v1h-3zM791 627h3v1h-3zM797 627h3v1h-3zM803 627h3v1h-3zM809 627h3v1h-3zM815 627h3v1h-3zM821 627h3v1h-3zM827 627h3v1h-3zM833 627h3v1h-3zM839 627h3v1h-3zM845 627h3v1h-3zM851 627h3v1h-3zM857 627h3v1h-3zM863 627h3v1h-3zM869 627h3v1h-3zM875 627h3v1h-3zM881 627h3v1h-3zM887 627h3v1h-3zM893 627h3v1h-3zM899 627h3v1h-3zM905 627h3v1h-3zM911 627h3v1h-3zM917 627h3v1h-3zM923 627h3v1h-3zM929 627h3v1h-3zM935 627h3v1h-3zM941 627h3v1h-3zM947 627h3v1h-3zM953 627h3v1h-3zM959 627h3v1h-3zM965 627h3v1h-3zM971 627h3v1h-3zM977 627h3v1h-3zM983 627h3v1h-3zM989 627h3v1h-3zM995 627h3v1h-3zM1001 627h3v1h-3zM1007 627h3v1h-3zM1013 627h3v1h-3zM1019 627h3v1h-3zM1025 627h3v1h-3zM1031 627h3v1h-3zM1037 627h3v1h-3zM1043 627h3v1h-3zM1049 627h3v1h-3zM1055 627h3v1h-3zM1061 627h3v1h-3zM1067 627h3v1h-3zM1073 627h3v1h-3zM1079 627h3v1h-3zM1085 627h3v1h-3zM1091 627h3v1h-3zM1097 627h3v1h-3zM1103 627h3v1h-3zM1109 627h3v1h-3zM1115 627h3v1h-3zM1121 627h3v1h-3zM1127 627h3v1h-3zM1133 627h3v1h-3zM1139 627h3v1h-3zM1145 627h3v1h-3zM1151 627h3v1h-3zM1157 627h3v1h-3zM1163 627h3v1h-3zM1169 627h3v1h-3zM1175 627h3v1h-3zM1181 627h3v1h-3zM1187 627h3v1h-3zM1193 627h3v1h-3zM1199 627h3v1h-3zM1205 627h3v1h-3zM1211 627h3v1h-3zM1217 627h3v1h-3zM1223 627h3v1h-3zM1229 627h3v1h-3zM1235 627h3v1h-3zM1241 627h3v1h-3zM1247 627h3v1h-3zM1253 627h3v1h-3zM1259 627h3v1h-3zM1265 627h3v1h-3zM1271 627h3v1h-3zM1277 627h3v1h-3zM1283 627h3v1h-3zM1289 627h3v1h-3zM1295 627h3v1h-3zM1301 627h3v1h-3zM1307 627h3v1h-3zM1313 627h3v1h-3zM1319 627h3v1h-3zM1325 627h3v1h-3zM1331 627h3v1h-3zM1337 627h3v1h-3zM1343 627h3v1h-3zM1349 627h3v1h-3zM1355 627h3v1h-3zM1361 627h3v1h-3zM1367 627h3v1h-3zM1373 627h3v1h-3zM1379 627h3v1h-3zM1385 627h3v1h-3zM1391 627h3v1h-3zM1397 627h3v1h-3zM1403 627h3v1h-3zM1409 627h3v1h-3zM1415 627h3v1h-3zM1421 627h3v1h-3zM1427 627h3v1h-3zM1433 627h3v1h-3zM1439 627h3v1h-3zM1445 627h3v1h-3zM1451 627h3v1h-3zM1457 627h3v1h-3zM1463 627h3v1h-3zM1469 627h3v1h-3zM1475 627h3v1h-3zM1481 627h3v1h-3zM1487 627h3v1h-3zM1493 627h3v1h-3zM1499 627h3v1h-3zM1505 627h3v1h-3zM1511 627h3v1h-3zM1517 627h3v1h-3zM1523 627h3v1h-3zM1529 627h3v1h-3zM1535 627h3v1h-3zM1541 627h3v1h-3zM1547 627h3v1h-3zM1553 627h3v1h-3zM1559 627h3v1h-3zM1565 627h3v1h-3zM1571 627h3v1h-3zM1577 627h3v1h-3zM1583 627h3v1h-3zM1589 627h3v1h-3zM1595 627h3v1h-3zM1601 627h3v1h-3zM1607 627h3v1h-3zM1613 627h3v1h-3zM1619 627h3v1h-3zM1625 627h3v1h-3zM1631 627h3v1h-3zM1637 627h3v1h-3zM1643 627h3v1h-3zM1649 627h3v1h-3zM1655 627h3v1h-3zM1661 627h3v1h-3zM1667 627h3v1h-3zM1673 627h3v1h-3zM1679 627h3v1h-3z"/>
<path fill="#c0c0c0" d="M5 668h3v1h-3zM11 668h3v1h-3zM17 668h3v1h-3zM23 668h3v1h-3zM29 668h3v1h-3zM35 668h3v1h-3zM41 668h3v1h-3zM47 668h3v1h-3zM53 668h3v1h-3zM59 668h3v1h-3zM65 668h3v1h-3zM71 668h3v1h-3zM77 668h3v1h-3zM83 668h3v1h-3zM89 668h3v1h-3zM95 668h3v1h-3zM101 668h3v1h-3zM107 668h3v1h-3zM113 668h3v1h-3zM119 668h3v1h-3zM125 668h3v1h-3zM131 668h3v1h-3zM137 668h3v1h-3zM143 668h3v1h-3zM149 668h3v1h-3zM155 668h3v1h-3zM161 668h3v1h-3zM167 668h3v1h-3zM173 668h3v1h-3zM179 668h3v1h-3zM185 668h3v1h-3zM191 668h3v1h-3zM197 668h3v1h-3zM203 668h3v1h-3zM209 668h3v1h-3zM215 668h3v1h-3zM221 668h3v1h-3zM227 668h3v1h-3zM233 668h3v1h-3zM239 668h3v1h-3zM245 668h3v1h-3zM251 668h3v1h-3zM257 668h3v1h-3zM263 668h3v1h-3zM269 668h3v1h-3zM275 668h3v1h-3zM281 668h3v1h-3zM287 668h3v1h-3zM293 668h3v1h-3zM299 668h3v1h-3zM305 668h3v1h-3zM311 668h3v1h-3zM317 668h3v1h-3zM323 668h3v1h-3zM329 668h3v1h-3zM335 668h3v1h-3zM341 668h3v1h-3zM347 668h3v1h-3zM353 668h3v1h-3zM359 668h3v1h-3zM365 668h3v1h-3zM371 668h3v1h-3zM377 668h3v1h-3zM383 668h3v1h-3zM389 668h3v1h-3zM395 668h3v1h-3zM401 668h3v1h-3zM407 668h3v1h-3zM413 668h3v1h-3zM419 668h3v1h-3zM425 668h3v1h-3zM431 668h3v1h-3zM437 668h3v1h-3zM443 668h3v1h-3zM449 668h3v1h-3zM455 668h3v1h-3zM461 668h3v1h-3zM467 668h3v1h-3zM473 668h3v1h-3zM479 668h3v1h-3zM485 668h3v1h-3zM491 668h3v1h-3zM497 668h3v1h-3zM503 668h3v1h-3zM509 668h3v1h-3zM515 668h3v1h-3zM521 668h3v1h-3zM527 668h3v1h-3zM533 668h3v1h-3zM539 668h3v1h-3zM545 668h3v1h-3zM551 668h3v1h-3zM557 668h3v1h-3zM563 668h3v1h-3zM569 668h3v1h-3zM575 668h3v1h-3zM581 668h3v1h-3zM587 668h3v1h-3zM593 668h3v1h-3zM599 668h3v1h-3zM605 668h3v1h-3zM611 668h3v1h-3zM617 668h3v1h-3zM623 668h3v1h-3zM629 668h3v1h-3zM635 668h3v1h-3zM641 668h3v1h-3zM647 668h3v1h-3zM653 668h3v1h-3zM659 668h3v1h-3zM665 668h3v1h-3zM671 668h3v1h-3zM677 668h3v1h-3zM683 668h3v1h-3zM689 668h3v1h-3zM695 668h3v1h-3zM701 668h3v1h-3zM707 668h3v1h-3zM713 668h3v1h-3zM719 668h3v1h-3zM725 668h3v1h-3zM731 668h3v1h-3zM737 668h3v1h-3zM743 668h3v1h-3zM749 668h3v1h-3zM755 668h3v1h-3zM761 668h3v1h-3zM767 668h3v1h-3zM773 668h3v1h-3zM779 668h3v1h-3zM785 668h3v1h-3zM791 668h3v1h-3zM797 668h3v1h-3zM803 668h3v1h-3zM809 668h3v1h-3zM815 668h3v1h-3zM821 668h3v1h-3zM827 668h3v1h-3zM833 668h3v1h-3zM839 668h3v1h-3zM845 668h3v1h-3zM851 668h3v1h-3zM857 668h3v1h-3zM863 668h3v1h-3zM869 668h3v1h-3zM875 668h3v1h-3zM881 668h3v1h-3zM887 668h3v1h-3zM893 668h3v1h-3zM899 668h3v1h-3zM905 668h3v1h-3zM911 668h3v1h-3zM917 668h3v1h-3zM923 668h3v1h-3zM929 668h3v1h-3zM935 668h3v1h-3zM941 668h3v1h-3zM947 668h3v1h-3zM953 668h3v1h-3zM959 668h3v1h-3zM965 668h3v1h-3zM971 668h3v1h-3zM977 668h3v1h-3zM983 668h3v1h-3zM989 668h3v1h-3zM995 668h3v1h-3zM1001 668h3v1h-3zM1007 668h3v1h-3zM1013 668h3v1h-3zM1019 668h3v1h-3zM1025 668h3v1h-3zM1031 668h3v1h-3zM1037 668h3v1h-3zM1043 668h3v1h-3zM1049 668h3v1h-3zM1055 668h3v1h-3zM1061 668h3v1h-3zM1067 668h3v1h-3zM1073 668h3v1h-3zM1079 668h3v1h-3zM1085 668h3v1h-3zM1091 668h3v1h-3zM1097 668h3v1h-3zM1103 668h3v1h-3zM1109 668h3v1h-3zM1115 668h3v1h-3zM1121 668h3v1h-3zM1127 668h3v1h-3zM1133 668h3v1h-3zM1139 668h3v1h-3zM1145 668h3v1h-3zM1151 668h3v1h-3zM1157 668h3v1h-3zM1163 668h3v1h-3zM1169 668h3v1h-3zM1175 668h3v1h-3zM1181 668h3v1h-3zM1187 668h3v1h-3zM1193 668h3v1h-3zM1199 668h3v1h-3zM1205 668h3v1h-3zM1211 668h3v1h-3zM1217 668h3v1h-3zM1223 668h3v1h-3zM1229 668h3v1h-3zM1235 668h3v1h-3zM1241 668h3v1h-3zM1247 668h3v1h-3zM1253 668h3v1h-3zM1259 668h3v1h-3zM1265 668h3v1h-3zM1271 668h3v1h-3zM1277 668h3v1h-3zM1283 668h3v1h-3zM1289 668h3v1h-3zM1295 668h3v1h-3zM1301 668h3v1h-3zM1307 668h3v1h-3zM1313 668h3v1h-3zM1319 668h3v1h-3zM1325 668h3v1h-3zM1331 668h3v1h-3zM1337 668h3v1h-3zM1343 668h3v1h-3zM1349 668h3v1h-3zM1355 668h3v1h-3zM1361 668h3v1h-3zM1367 668h3v1h-3zM1373 668h3v1h-3zM1379 668h3v1h-3zM1385 668h3v1h-3zM1391 668h3v1h-3zM1397 668h3v1h-3zM1403 668h3v1h-3zM1409 668h3v1h-3zM1415 668h3v1h-3zM1421 668h3v1h-3zM1427 668h3v1h-3zM1433 668h3v1h-3zM1439 668h3v1h-3zM1445 668h3v1h-3zM1451 668h3v1h-3zM1457 668h3v1h-3zM1463 668h3v1h-3zM1469 668h3v1h-3zM1475 668h3v1h-3zM1481 668h3v1h-3zM1487 668h3v1h-3zM1493 668h3v1h-3zM1499 668h3v1h-3zM1505 668h3v1h-3zM1511 668h3v1h-3zM1517 668h3v1h-3zM1523 668h3v1h-3zM1529 668h3v1h-3zM1535 668h3v1h-3zM1541 668h3v1h-3zM1547 668h3v1h-3zM1553 668h3v1h-3zM1559 668h3v1h-3zM1565 668h3v1h-3zM1571 668h3v1h-3zM1577 668h3v1h-3zM1583 668h3v1h-3zM1589 668h3v1h-3zM1595 668h3v1h-3zM1601 668h3v1h-3zM1607 668h3v1h-3zM1613 668h3v1h-3zM1619 668h3v1h-3zM1625 668h3v1h-3zM1631 668h3v1h-3zM1637 668h3v1h-3zM1643 668h3v1h-3zM1649 668h3v1h-3zM1655 668h3v1h-3zM1661 668h3v1h-3zM1667 668h3v1h-3zM1673 668h3v1h-3zM1679 668h3v1h-3z"/>
<path fill="#1e90ff" d="M4 637h1v2h-1zM5 639h1v2h-1zM6 641h1v3h-1zM7 644h1v2h-1zM8 646h1v2h-1zM17 646h1v1h-1zM20 644h1v1h-1zM21 645h1v1h-1zM24 647h1v1h-1zM25 646h1v1h-1zM28 644h1v1h-1zM29 643h1v1h-1zM32 641h1v1h-1zM33 640h1v1h-1zM41 639h1v1h-1zM42 640h1v1h-1zM43 641h1v1h-1zM44 642h1v1h-1zM45 643h1v1h-1zM48 645h1v1h-1zM49 646h1v1h-1zM52 648h1v1h-1zM53 646h1v2h-1zM54 644h1v2h-1zM55 642h1v2h-1zM56 641h1v1h-1zM57 640h1v1h-1zM58 638h1v2h-1zM59 637h1v1h-1zM72 636h1v1h-1zM73 634h1v2h-1zM74 632h1v2h-1zM75 630h1v2h-1zM76 628h1v2h-1zM77 630h1v3h-1zM78 633h1v2h-1zM79 635h1v3h-1zM80 639h1v1h-1zM85 638h1v1h-1zM88 640h1v1h-1zM89 641h1v2h-1zM90 643h1v1h-1zM91 644h1v2h-1zM92 646h1v1h-1zM93 647h1v2h-1zM94 649h1v1h-1zM95 650h1v2h-1zM104 652h1v1h-1zM105 653h1v2h-1zM106 655h1v3h-1zM107 658h1v2h-1zM108 660h1v1h-1zM117 661h1v1h-1zM118 659h1v2h-1zM119 658h1v1h-1zM120 657h1v1h-1zM121 658h1v1h-1zM122 659h1v2h-1zM123 661h1v1h-1zM124 662h1v1h-1zM125 661h1v1h-1zM126 659h1v2h-1zM127 658h1v1h-1zM128 657h1v1h-1zM129 656h1v1h-1zM161 655h1v2h-1zM162 657h1v1h-1zM163 658h1v2h-1zM168 660h1v1h-1zM169 658h1v2h-1zM170 656h1v2h-1zM171 654h1v2h-1zM172 652h1v2h-1zM173 651h1v1h-1zM189 651h1v1h-1zM190 652h1v1h-1zM191 653h1v1h-1zM192 654h1v1h-1zM208 656h1v1h-1zM209 657h1v4h-1zM210 661h1v3h-1zM211 664h1v4h-1zM212 668h1v1h-1zM217 671h1v1h-1zM225 672h1v2h-1zM226 671h1v1h-1zM227 669h1v2h-1zM228 668h1v1h-1zM233 667h1v1h-1zM236 669h1v1h-1zM237 667h1v2h-1zM238 666h1v1h-1zM239 664h1v2h-1zM240 663h1v1h-1zM241 664h1v2h-1zM242 666h1v1h-1zM243 667h1v2h-1zM249 667h1v1h-1zM261 666h1v1h-1zM264 668h1v1h-1zM265 664h1v3h-1zM266 660h1v4h-1zM267 657h1v3h-1zM268 656h1v1h-1zM272 655h1v1h-1zM273 653h1v2h-1zM274 650h1v3h-1zM275 648h1v2h-1zM276 646h1v1h-1zM280 649h1v1h-1zM281 650h1v1h-1zM282 651h1v2h-1zM283 653h1v1h-1zM293 653h1v1h-1zM294 652h1v1h-1zM296 650h1v1h-1zM297 652h1v2h-1zM298 654h1v2h-1zM299 656h1v2h-1zM300 659h1v1h-1zM304 656h1v1h-1zM312 660h1v1h-1zM313 661h1v2h-1zM314 663h1v3h-1zM315 666h1v2h-1zM316 669h1v1h-1zM317 667h1v1h-1zM318 666h1v1h-1zM319 664h1v2h-1zM320 663h1v1h-1zM321 661h1v2h-1zM322 659h1v2h-1zM323 657h1v2h-1zM324 656h1v1h-1zM329 656h1v1h-1zM332 658h1v1h-1zM333 659h1v1h-1zM334 660h1v1h-1zM335 661h1v1h-1zM336 662h1v1h-1zM341 662h1v2h-1zM342 661h1v1h-1zM343 659h1v2h-1zM344 658h1v1h-1zM353 660h1v1h-1zM356 662h1v1h-1zM357 663h1v1h-1zM358 664h1v1h-1zM359 665h1v1h-1zM369 665h1v1h-1zM370 663h1v2h-1zM371 662h1v1h-1zM377 661h1v1h-1zM385 663h1v2h-1zM386 665h1v1h-1zM387 666h1v2h-1zM393 670h1v1h-1zM394 671h1v1h-1zM395 672h1v1h-1zM405 676h1v1h-1zM412 676h1v1h-1zM413 674h1v2h-1zM414 672h1v2h-1zM415 670h1v2h-1zM416 668h1v1h-1zM428 671h1v1h-1zM429 669h1v2h-1zM430 666h1v3h-1zM431 664h1v2h-1zM432 662h1v1h-1zM434 664h1v1h-1zM435 665h1v1h-1zM441 666h1v1h-1zM442 665h1v1h-1zM443 664h1v1h-1zM449 665h1v2h-1zM450 667h1v1h-1zM451 668h1v2h-1zM452 670h1v1h-1zM453 671h1v1h-1zM454 672h1v1h-1zM455 673h1v1h-1zM456 674h1v1h-1zM457 675h1v1h-1zM458 676h1v1h-1zM459 677h1v1h-1zM460 678h1v1h-1zM461 677h1v1h-1zM462 675h1v2h-1zM463 674h1v1h-1zM464 673h1v1h-1zM469 670h1v1h-1zM470 669h1v1h-1zM471 668h1v1h-1zM472 666h1v2h-1zM473 664h1v2h-1zM474 661h1v3h-1zM475 659h1v2h-1zM476 657h1v1h-1zM478 659h1v2h-1zM480 662h1v1h-1zM481 658h1v3h-1zM482 656h1v2h-1zM483 653h1v3h-1zM484 651h1v2h-1zM485 650h1v1h-1zM486 649h1v1h-1zM487 648h1v1h-1zM497 649h1v1h-1zM498 650h1v2h-1zM499 652h1v1h-1zM500 653h1v1h-1zM501 652h1v1h-1zM502 651h1v1h-1zM503 650h1v1h-1zM504 649h1v1h-1zM505 650h1v2h-1zM506 652h1v2h-1zM507 654h1v2h-1zM508 656h1v2h-1zM509 658h1v2h-1zM510 660h1v2h-1zM511 662h1v2h-1zM512 664h1v1h-1zM513 663h1v1h-1zM514 662h1v1h-1zM515 661h1v1h-1zM521 662h1v1h-1zM522 663h1v2h-1zM523 665h1v1h-1zM524 666h1v1h-1zM525 665h1v1h-1zM526 664h1v1h-1zM527 663h1v1h-1zM533 662h1v1h-1zM536 660h1v1h-1zM537 661h1v2h-1zM538 663h1v2h-1zM539 665h1v2h-1zM540 667h1v1h-1zM544 666h1v1h-1zM545 662h1v4h-1zM546 659h1v3h-1zM547 655h1v4h-1zM548 654h1v1h-1zM553 655h1v1h-1zM554 656h1v2h-1zM555 658h1v1h-1zM556 659h1v1h-1zM561 658h1v1h-1zM562 659h1v1h-1zM563 660h1v1h-1zM569 661h1v1h-1zM572 663h1v1h-1zM581 665h1v2h-1zM582 663h1v2h-1zM583 661h1v2h-1zM592 659h1v1h-1zM593 657h1v2h-1zM594 655h1v2h-1zM595 653h1v2h-1zM596 652h1v1h-1zM601 650h1v1h-1zM602 648h1v2h-1zM603 647h1v1h-1zM609 648h1v2h-1zM610 650h1v1h-1zM611 651h1v2h-1zM625 657h1v2h-1zM626 659h1v2h-1zM627 661h1v2h-1zM628 663h1v1h-1zM629 664h1v1h-1zM630 665h1v2h-1zM631 667h1v1h-1zM632 668h1v1h-1zM640 669h1v1h-1zM641 666h1v3h-1zM642 663h1v3h-1zM643 660h1v3h-1zM644 658h1v1h-1zM646 660h1v1h-1zM647 661h1v1h-1zM648 662h1v1h-1zM649 661h1v1h-1zM650 660h1v1h-1zM651 659h1v1h-1zM652 658h1v1h-1zM653 659h1v1h-1zM656 661h1v1h-1zM665 661h1v1h-1zM666 662h1v1h-1zM667 663h1v1h-1zM668 664h1v1h-1zM669 665h1v1h-1zM677 665h1v2h-1zM678 663h1v2h-1zM679 661h1v2h-1zM680 660h1v1h-1zM681 661h1v1h-1zM688 663h1v1h-1zM689 661h1v2h-1zM690 659h1v2h-1zM691 657h1v2h-1zM692 656h1v1h-1zM717 656h1v1h-1zM718 657h1v1h-1zM719 658h1v1h-1zM725 661h1v1h-1zM726 662h1v1h-1zM727 663h1v1h-1zM728 664h1v1h-1zM729 665h1v1h-1zM737 667h1v1h-1zM738 665h1v2h-1zM739 664h1v1h-1zM749 660h1v2h-1zM750 659h1v1h-1zM751 657h1v2h-1zM769 661h1v1h-1zM770 662h1v1h-1zM771 663h1v1h-1zM772 664h1v1h-1zM773 663h1v1h-1zM785 658h1v2h-1zM786 656h1v2h-1zM787 654h1v2h-1zM788 652h1v2h-1zM793 651h1v1h-1zM796 653h1v1h-1zM797 654h1v2h-1zM798 656h1v1h-1zM799 657h1v2h-1zM805 656h1v2h-1zM806 654h1v2h-1zM807 652h1v2h-1zM808 650h1v1h-1zM812 653h1v1h-1zM813 654h1v2h-1zM814 656h1v2h-1zM815 658h1v2h-1zM816 660h1v1h-1zM828 660h1v1h-1zM829 661h1v3h-1zM830 664h1v3h-1zM831 667h1v3h-1zM832 670h1v1h-1zM837 671h1v1h-1zM838 669h1v2h-1zM839 668h1v1h-1zM840 667h1v1h-1zM841 665h1v2h-1zM842 663h1v2h-1zM843 661h1v2h-1zM844 659h1v1h-1zM848 662h1v1h-1zM849 661h1v1h-1zM852 659h1v1h-1zM853 658h1v1h-1zM854 657h1v1h-1zM855 656h1v1h-1zM856 655h1v1h-1zM857 656h1v1h-1zM858 657h1v2h-1zM859 659h1v1h-1zM860 660h1v1h-1zM865 657h1v1h-1zM866 656h1v1h-1zM867 655h1v1h-1zM868 654h1v1h-1zM869 653h1v1h-1zM877 650h1v1h-1zM878 649h1v1h-1zM879 648h1v1h-1zM880 647h1v1h-1zM881 648h1v1h-1zM882 649h1v2h-1zM883 651h1v1h-1zM884 652h1v1h-1zM885 653h1v1h-1zM886 654h1v2h-1zM887 656h1v1h-1zM888 657h1v1h-1zM892 654h1v1h-1zM893 652h1v2h-1zM894 650h1v2h-1zM895 648h1v2h-1zM896 647h1v1h-1zM901 646h1v1h-1zM904 648h1v1h-1zM905 649h1v1h-1zM906 650h1v2h-1zM907 652h1v1h-1zM908 653h1v1h-1zM909 651h1v2h-1zM910 649h1v2h-1zM911 647h1v2h-1zM912 646h1v1h-1zM913 647h1v1h-1zM914 648h1v2h-1zM915 650h1v1h-1zM916 651h1v1h-1zM917 652h1v2h-1zM918 654h1v2h-1zM919 656h1v2h-1zM920 659h1v1h-1zM924 656h1v1h-1zM925 654h1v2h-1zM926 652h1v2h-1zM927 650h1v2h-1zM928 649h1v1h-1zM929 650h1v1h-1zM937 651h1v1h-1zM938 650h1v1h-1zM939 649h1v1h-1zM940 648h1v1h-1zM941 649h1v1h-1zM942 650h1v1h-1zM943 651h1v1h-1zM949 653h1v1h-1zM950 654h1v2h-1zM951 656h1v1h-1zM952 657h1v1h-1zM953 658h1v1h-1zM954 659h1v1h-1zM955 660h1v1h-1zM956 661h1v1h-1zM973 661h1v1h-1zM976 663h1v1h-1zM977 661h1v2h-1zM978 660h1v1h-1zM979 658h1v2h-1zM980 657h1v1h-1zM981 655h1v2h-1zM982 653h1v2h-1zM983 651h1v2h-1zM984 649h1v2h-1zM985 647h1v2h-1zM986 645h1v2h-1zM987 643h1v2h-1zM988 642h1v1h-1zM989 643h1v2h-1zM990 645h1v2h-1zM991 647h1v2h-1zM992 650h1v1h-1zM994 647h1v2h-1zM995 646h1v1h-1zM996 645h1v1h-1zM997 644h1v1h-1zM1000 642h1v1h-1zM1001 643h1v1h-1zM1002 644h1v1h-1zM1003 645h1v1h-1zM1013 645h1v1h-1zM1014 644h1v1h-1zM1015 643h1v1h-1zM1016 642h1v1h-1zM1021 641h1v2h-1zM1022 643h1v1h-1zM1023 644h1v2h-1zM1024 646h1v1h-1zM1025 645h1v1h-1zM1036 643h1v1h-1zM1037 640h1v3h-1zM1038 638h1v2h-1zM1039 635h1v3h-1zM1040 633h1v1h-1zM1045 633h1v2h-1zM1046 632h1v1h-1zM1047 631h1v1h-1zM1048 629h1v1h-1zM1049 631h1v2h-1zM1050 633h1v3h-1zM1051 636h1v2h-1zM1052 638h1v1h-1zM1057 640h1v2h-1zM1058 642h1v1h-1zM1059 643h1v2h-1zM1060 645h1v1h-1zM1093 642h1v1h-1zM1096 644h1v1h-1zM1097 643h1v1h-1zM1098 642h1v1h-1zM1099 641h1v1h-1zM1100 640h1v1h-1zM1101 639h1v1h-1zM1104 637h1v1h-1zM1105 635h1v2h-1zM1106 634h1v1h-1zM1107 632h1v2h-1zM1108 631h1v1h-1zM1117 632h1v2h-1zM1118 630h1v2h-1zM1119 628h1v2h-1zM1125 628h1v1h-1zM1126 629h1v1h-1zM1127 630h1v1h-1zM1128 631h1v1h-1zM1141 631h1v2h-1zM1142 633h1v2h-1zM1143 635h1v2h-1zM1144 637h1v2h-1zM1145 639h1v2h-1zM1146 641h1v1h-1zM1147 642h1v2h-1zM1148 644h1v1h-1zM1153 641h1v1h-1zM1154 640h1v1h-1zM1155 639h1v1h-1zM1165 640h1v1h-1zM1168 642h1v1h-1zM1169 643h1v1h-1zM1172 645h1v1h-1zM1173 646h1v2h-1zM1174 648h1v2h-1zM1175 650h1v2h-1zM1189 653h1v2h-1zM1190 655h1v1h-1zM1191 656h1v2h-1zM1192 658h1v1h-1zM1193 659h1v1h-1zM1194 660h1v1h-1zM1195 661h1v1h-1zM1196 662h1v1h-1zM1197 663h1v1h-1zM1213 665h1v1h-1zM1214 666h1v2h-1zM1215 668h1v1h-1zM1216 669h1v1h-1zM1233 668h1v1h-1zM1240 664h1v1h-1zM1241 662h1v2h-1zM1242 660h1v2h-1zM1243 658h1v2h-1zM1244 657h1v1h-1zM1249 658h1v2h-1zM1250 660h1v2h-1zM1251 662h1v2h-1zM1252 664h1v2h-1zM1253 666h1v3h-1zM1254 669h1v3h-1zM1255 672h1v3h-1zM1256 675h1v1h-1zM1264 675h1v1h-1zM1265 673h1v2h-1zM1266 671h1v2h-1zM1267 669h1v2h-1zM1268 666h1v3h-1zM1269 662h1v4h-1zM1270 659h1v3h-1zM1271 655h1v4h-1zM1272 653h1v1h-1zM1277 656h1v1h-1zM1278 657h1v1h-1zM1279 658h1v1h-1zM1289 658h1v1h-1zM1290 659h1v2h-1zM1291 661h1v1h-1zM1292 662h1v1h-1zM1293 661h1v1h-1zM1296 659h1v1h-1zM1297 658h1v1h-1zM1309 658h1v2h-1zM1310 660h1v1h-1zM1311 661h1v2h-1zM1312 663h1v1h-1zM1317 666h1v1h-1zM1318 667h1v2h-1zM1319 669h1v1h-1zM1325 672h1v1h-1zM1333 673h1v1h-1zM1334 671h1v2h-1zM1335 670h1v1h-1zM1019 640h2v1h-2zM1087 640h3v1h-3zM15 647h2v1h-2zM50 647h2v1h-2zM276 647h2v1h-2zM488 647h2v1h-2zM606 647h3v1h-3zM902 647h2v1h-2zM1006 647h4v1h-4zM96 652h2v1h-2zM138 652h8v1h-8zM794 652h2v1h-2zM810 652h2v1h-2zM870 652h2v1h-2zM932 652h5v1h-5zM944 652h5v1h-5zM1176 652h2v1h-2zM1187 652h2v1h-2zM98 651h7v1h-7zM295 651h2v1h-2zM596 651h5v1h-5zM789 651h2v1h-2zM808 651h2v1h-2zM872 651h5v1h-5zM930 651h2v1h-2zM300 658h2v1h-2zM307 658h3v1h-3zM476 658h2v1h-2zM557 658h2v1h-2zM701 658h2v1h-2zM706 658h4v1h-4zM762 658h3v1h-3zM802 658h3v1h-3zM863 658h2v1h-2zM920 658h2v1h-2zM1285 658h2v1h-2zM214 670h3v1h-3zM419 670h3v1h-3zM635 670h6v1h-6zM1227 670h3v1h-3zM1320 670h2v1h-2zM231 666h2v1h-2zM250 666h2v1h-2zM254 666h4v1h-4zM360 666h9v1h-9zM436 666h2v1h-2zM577 666h2v1h-2zM670 666h2v1h-2zM730 666h2v1h-2zM1236 666h2v1h-2zM252 665h2v1h-2zM258 665h3v1h-3zM575 665h2v1h-2zM1200 665h2v1h-2zM1238 665h3v1h-3zM1315 665h2v1h-2zM1017 641h2v1h-2zM1079 641h3v1h-3zM1085 641h2v1h-2zM1090 641h3v1h-3zM1166 641h2v1h-2zM229 667h2v1h-2zM262 667h3v1h-3zM438 667h3v1h-3zM542 667h3v1h-3zM579 667h2v1h-2zM672 667h5v1h-5zM732 667h2v1h-2zM1219 667h3v1h-3zM1234 667h2v1h-2zM222 674h3v1h-3zM401 674h2v1h-2zM1328 674h5v1h-5zM220 673h2v1h-2zM396 673h5v1h-5zM1326 673h2v1h-2zM132 654h2v1h-2zM154 654h7v1h-7zM199 654h7v1h-7zM284 654h9v1h-9zM550 654h3v1h-3zM618 654h3v1h-3zM1182 654h3v1h-3zM1272 654h3v1h-3zM998 643h2v1h-2zM1028 643h2v1h-2zM1063 643h3v1h-3zM1070 643h7v1h-7zM1094 643h2v1h-2zM1149 643h2v1h-2zM134 653h4v1h-4zM146 653h8v1h-8zM548 653h2v1h-2zM612 653h6v1h-6zM1178 653h4v1h-4zM1185 653h2v1h-2zM1109 632h2v1h-2zM302 657h2v1h-2zM305 657h2v1h-2zM330 657h2v1h-2zM559 657h2v1h-2zM699 657h2v1h-2zM710 657h3v1h-3zM758 657h4v1h-4zM922 657h2v1h-2zM1246 657h3v1h-3zM1287 657h2v1h-2zM1298 657h2v1h-2zM1306 657h3v1h-3zM30 642h2v1h-2zM1077 642h2v1h-2zM1082 642h3v1h-3zM1151 642h2v1h-2zM110 660h3v1h-3zM164 660h2v1h-2zM347 660h3v1h-3zM374 660h3v1h-3zM516 660h2v1h-2zM566 660h3v1h-3zM584 660h9v1h-9zM654 660h2v1h-2zM657 660h2v1h-2zM662 660h3v1h-3zM722 660h3v1h-3zM767 660h2v1h-2zM782 660h3v1h-3zM825 660h2v1h-2zM844 660h2v1h-2zM850 660h2v1h-2zM957 660h2v1h-2zM961 660h2v1h-2zM966 660h7v1h-7zM1294 660h2v1h-2zM1135 631h3v1h-3zM36 638h5v1h-5zM80 638h3v1h-3zM1102 638h2v1h-2zM1156 638h2v1h-2zM339 664h2v1h-2zM446 664h3v1h-3zM573 664h2v1h-2zM686 664h3v1h-3zM742 664h3v1h-3zM1198 664h2v1h-2zM1202 664h11v1h-11zM1313 664h2v1h-2zM212 669h2v1h-2zM244 669h2v1h-2zM390 669h3v1h-3zM416 669h3v1h-3zM633 669h2v1h-2zM1225 669h2v1h-2zM1230 669h3v1h-3zM1336 669h5v1h-5zM337 663h2v1h-2zM380 663h2v1h-2zM432 663h2v1h-2zM444 663h2v1h-2zM530 663h3v1h-3zM684 663h2v1h-2zM740 663h2v1h-2zM745 663h2v1h-2zM18 645h2v1h-2zM26 645h2v1h-2zM898 645h3v1h-3zM1111 633h3v1h-3zM108 661h2v1h-2zM113 661h2v1h-2zM166 661h3v1h-3zM354 661h2v1h-2zM372 661h2v1h-2zM479 661h2v1h-2zM518 661h3v1h-3zM534 661h2v1h-2zM564 661h2v1h-2zM776 661h6v1h-6zM817 661h2v1h-2zM822 661h3v1h-3zM846 661h2v1h-2zM963 661h3v1h-3zM22 646h2v1h-2zM604 646h2v1h-2zM896 646h2v1h-2zM1004 646h2v1h-2zM1010 646h3v1h-3zM310 659h3v1h-3zM345 659h2v1h-2zM350 659h3v1h-3zM644 659h2v1h-2zM659 659h3v1h-3zM703 659h3v1h-3zM720 659h2v1h-2zM765 659h2v1h-2zM800 659h2v1h-2zM827 659h2v1h-2zM861 659h2v1h-2zM959 659h2v1h-2zM1280 659h5v1h-5zM234 668h2v1h-2zM246 668h3v1h-3zM316 668h2v1h-2zM388 668h2v1h-2zM540 668h2v1h-2zM734 668h3v1h-3zM1217 668h2v1h-2zM1222 668h3v1h-3zM1256 676h2v1h-2zM1262 676h3v1h-3zM218 672h2v1h-2zM426 672h3v1h-3zM465 672h2v1h-2zM834 672h3v1h-3zM60 636h2v1h-2zM66 636h4v1h-4zM115 662h2v1h-2zM378 662h2v1h-2zM382 662h3v1h-3zM528 662h2v1h-2zM570 662h2v1h-2zM682 662h2v1h-2zM747 662h2v1h-2zM774 662h2v1h-2zM819 662h3v1h-3zM974 662h2v1h-2zM1047 630h2v1h-2zM1129 630h2v1h-2zM1133 630h2v1h-2zM1138 630h3v1h-3zM174 650h2v1h-2zM187 650h2v1h-2zM791 650h2v1h-2zM130 655h2v1h-2zM193 655h2v1h-2zM197 655h2v1h-2zM206 655h3v1h-3zM268 655h2v1h-2zM324 655h5v1h-5zM621 655h2v1h-2zM692 655h5v1h-5zM715 655h2v1h-2zM891 655h2v1h-2zM1275 655h2v1h-2zM62 637h4v1h-4zM70 637h3v1h-3zM83 637h2v1h-2zM9 648h2v1h-2zM13 648h2v1h-2zM178 648h7v1h-7zM278 648h2v1h-2zM490 648h7v1h-7zM195 656h2v1h-2zM270 656h3v1h-3zM623 656h2v1h-2zM697 656h2v1h-2zM713 656h2v1h-2zM752 656h6v1h-6zM889 656h2v1h-2zM1244 656h2v1h-2zM1300 656h6v1h-6zM422 671h4v1h-4zM467 671h2v1h-2zM832 671h2v1h-2zM1322 671h3v1h-3zM34 639h2v1h-2zM86 639h2v1h-2zM1052 639h5v1h-5zM1158 639h7v1h-7zM403 675h2v1h-2zM1258 675h4v1h-4zM11 649h2v1h-2zM176 649h2v1h-2zM185 649h2v1h-2zM992 649h2v1h-2zM46 644h2v1h-2zM1026 644h2v1h-2zM1030 644h7v1h-7zM1061 644h2v1h-2zM1066 644h4v1h-4zM1170 644h2v1h-2zM1040 634h3v1h-3zM1114 634h3v1h-3zM1043 635h2v1h-2zM1131 629h2v1h-2zM406 677h2v1h-2zM410 677h3v1h-3zM408 678h2v1h-2zM1120 627h5v1h-5z"/>
</g>
<text x="8" y="608" font-family='"DejaVu Sans Condensed", "DejaVu Sans", "Liberation Sans", sans-serif' font-size="9.4" fill="#000" textLength="67" lengthAdjust="spacingAndGlyphs">RSI(14) 29.2321</text>
<rect x="1685" y="597" width="2" height="1" fill="#000"/><rect x="1685" y="698" width="2" height="1" fill="#000"/>
<text x="1688" y="606" font-family='"DejaVu Sans Condensed", "DejaVu Sans", "Liberation Sans", sans-serif' font-size="9.4" fill="#000" textLength="14.5" lengthAdjust="spacingAndGlyphs">100</text>
<text x="1687" y="631" font-family='"DejaVu Sans Condensed", "DejaVu Sans", "Liberation Sans", sans-serif' font-size="9.4" fill="#000" textLength="9.5" lengthAdjust="spacingAndGlyphs">70</text>
<text x="1687" y="672" font-family='"DejaVu Sans Condensed", "DejaVu Sans", "Liberation Sans", sans-serif' font-size="9.4" fill="#000" textLength="9.5" lengthAdjust="spacingAndGlyphs">30</text>
<text x="1688" y="696" font-family='"DejaVu Sans Condensed", "DejaVu Sans", "Liberation Sans", sans-serif' font-size="9.4" fill="#000" textLength="4.5" lengthAdjust="spacingAndGlyphs">0</text>
<g clip-path="url(#cd)">
<path fill="#c0c0c0" d="M4 720h1v23h-1zM8 723h1v20h-1zM12 727h1v16h-1zM16 729h1v14h-1zM20 730h1v13h-1zM24 731h1v12h-1zM28 731h1v12h-1zM32 730h1v13h-1zM36 728h1v15h-1zM40 727h1v16h-1zM44 727h1v16h-1zM48 728h1v15h-1zM52 731h1v12h-1zM56 730h1v13h-1zM60 727h1v16h-1zM64 725h1v18h-1zM68 724h1v19h-1zM72 723h1v20h-1zM76 717h1v26h-1zM80 717h1v26h-1zM84 717h1v26h-1zM88 717h1v26h-1zM92 721h1v22h-1zM96 726h1v17h-1zM100 730h1v13h-1zM104 733h1v10h-1zM108 742h1v1h-1zM112 742h1v6h-1zM116 742h1v12h-1zM120 742h1v15h-1zM124 742h1v20h-1zM128 742h1v21h-1zM132 742h1v21h-1zM136 742h1v21h-1zM140 742h1v20h-1zM144 742h1v19h-1zM148 742h1v18h-1zM152 742h1v17h-1zM156 742h1v17h-1zM160 742h1v16h-1zM164 742h1v18h-1zM168 742h1v20h-1zM172 742h1v19h-1zM176 742h1v17h-1zM180 742h1v14h-1zM184 742h1v13h-1zM188 742h1v11h-1zM192 742h1v12h-1zM196 742h1v12h-1zM200 742h1v12h-1zM204 742h1v12h-1zM208 742h1v12h-1zM212 742h1v17h-1zM216 742h1v22h-1zM220 742h1v27h-1zM224 742h1v31h-1zM228 742h1v33h-1zM232 742h1v33h-1zM236 742h1v35h-1zM240 742h1v34h-1zM244 742h1v36h-1zM248 742h1v37h-1zM252 742h1v37h-1zM256 742h1v37h-1zM260 742h1v36h-1zM264 742h1v36h-1zM268 742h1v33h-1zM272 742h1v31h-1zM276 742h1v26h-1zM280 742h1v22h-1zM284 742h1v21h-1zM288 742h1v20h-1zM292 742h1v19h-1zM296 742h1v17h-1zM300 742h1v19h-1zM304 742h1v19h-1zM308 742h1v20h-1zM312 742h1v21h-1zM316 742h1v26h-1zM320 742h1v29h-1zM324 742h1v27h-1zM328 742h1v26h-1zM332 742h1v27h-1zM336 742h1v28h-1zM340 742h1v31h-1zM344 742h1v30h-1zM348 742h1v31h-1zM352 742h1v30h-1zM356 742h1v31h-1zM360 742h1v34h-1zM364 742h1v35h-1zM368 742h1v36h-1zM372 742h1v35h-1zM376 742h1v34h-1zM380 742h1v34h-1zM384 742h1v34h-1zM388 742h1v36h-1zM392 742h1v37h-1zM396 742h1v41h-1zM400 742h1v43h-1zM404 742h1v46h-1zM408 742h1v49h-1zM412 742h1v52h-1zM416 742h1v51h-1zM420 742h1v50h-1zM424 742h1v50h-1zM428 742h1v50h-1zM432 742h1v47h-1zM436 742h1v46h-1zM440 742h1v45h-1zM444 742h1v43h-1zM448 742h1v42h-1zM452 742h1v43h-1zM456 742h1v47h-1zM460 742h1v53h-1zM464 742h1v55h-1zM468 742h1v56h-1zM472 742h1v55h-1zM476 742h1v50h-1zM480 742h1v49h-1zM484 742h1v43h-1zM488 742h1v36h-1zM492 742h1v31h-1zM496 742h1v26h-1zM500 742h1v24h-1zM504 742h1v21h-1zM508 742h1v23h-1zM512 742h1v29h-1zM516 742h1v32h-1zM520 742h1v34h-1zM524 742h1v39h-1zM528 742h1v41h-1zM532 742h1v43h-1zM536 742h1v43h-1zM540 742h1v49h-1zM544 742h1v52h-1zM548 742h1v48h-1zM552 742h1v45h-1zM556 742h1v45h-1zM560 742h1v44h-1zM564 742h1v46h-1zM568 742h1v46h-1zM572 742h1v48h-1zM576 742h1v51h-1zM580 742h1v55h-1zM584 742h1v54h-1zM588 742h1v53h-1zM592 742h1v51h-1zM596 742h1v45h-1zM600 742h1v40h-1zM604 742h1v33h-1zM608 742h1v28h-1zM612 742h1v26h-1zM616 742h1v25h-1zM620 742h1v24h-1zM624 742h1v24h-1zM628 742h1v28h-1zM632 742h1v35h-1zM636 742h1v43h-1zM640 742h1v48h-1zM644 742h1v47h-1zM648 742h1v49h-1zM652 742h1v48h-1zM656 742h1v48h-1zM660 742h1v47h-1zM664 742h1v47h-1zM668 742h1v49h-1zM672 742h1v53h-1zM676 742h1v55h-1zM680 742h1v54h-1zM684 742h1v54h-1zM688 742h1v55h-1zM692 742h1v51h-1zM696 742h1v47h-1zM700 742h1v44h-1zM704 742h1v43h-1zM708 742h1v42h-1zM712 742h1v40h-1zM716 742h1v37h-1zM720 742h1v36h-1zM724 742h1v36h-1zM728 742h1v38h-1zM732 742h1v41h-1zM736 742h1v44h-1zM740 742h1v43h-1zM744 742h1v43h-1zM748 742h1v42h-1zM752 742h1v39h-1zM756 742h1v37h-1zM760 742h1v34h-1zM764 742h1v33h-1zM768 742h1v32h-1zM772 742h1v32h-1zM776 742h1v32h-1zM780 742h1v31h-1zM784 742h1v30h-1zM788 742h1v26h-1zM792 742h1v23h-1zM796 742h1v21h-1zM800 742h1v22h-1zM804 742h1v21h-1zM808 742h1v19h-1zM812 742h1v18h-1zM816 742h1v19h-1zM820 742h1v21h-1zM824 742h1v22h-1zM828 742h1v22h-1zM832 742h1v28h-1zM836 742h1v34h-1zM840 742h1v36h-1zM844 742h1v35h-1zM848 742h1v36h-1zM852 742h1v35h-1zM856 742h1v33h-1zM860 742h1v33h-1zM864 742h1v32h-1zM868 742h1v30h-1zM872 742h1v26h-1zM876 742h1v23h-1zM880 742h1v20h-1zM884 742h1v18h-1zM888 742h1v19h-1zM892 742h1v19h-1zM896 742h1v15h-1zM900 742h1v12h-1zM904 742h1v10h-1zM908 742h1v11h-1zM912 742h1v8h-1zM916 742h1v9h-1zM920 742h1v13h-1zM924 742h1v15h-1zM928 742h1v14h-1zM932 742h1v14h-1zM936 742h1v13h-1zM940 742h1v12h-1zM944 742h1v12h-1zM948 742h1v12h-1zM952 742h1v14h-1zM956 742h1v19h-1zM960 742h1v21h-1zM964 742h1v23h-1zM968 742h1v24h-1zM972 742h1v25h-1zM976 742h1v28h-1zM980 742h1v27h-1zM984 742h1v24h-1zM988 742h1v18h-1zM992 742h1v16h-1zM996 742h1v13h-1zM1000 742h1v8h-1zM1004 742h1v6h-1zM1008 742h1v5h-1zM1012 742h1v3h-1zM1016 741h1v2h-1zM1020 738h1v5h-1zM1024 738h1v5h-1zM1028 736h1v7h-1zM1032 736h1v7h-1zM1036 735h1v8h-1zM1040 730h1v13h-1zM1044 726h1v17h-1zM1048 720h1v23h-1zM1052 719h1v24h-1zM1056 718h1v25h-1zM1060 721h1v22h-1zM1064 722h1v21h-1zM1068 723h1v20h-1zM1072 724h1v19h-1zM1076 725h1v18h-1zM1080 725h1v18h-1zM1084 726h1v17h-1zM1088 726h1v17h-1zM1092 726h1v17h-1zM1096 727h1v16h-1zM1100 727h1v16h-1zM1104 726h1v17h-1zM1108 722h1v21h-1zM1112 720h1v23h-1zM1116 719h1v24h-1zM1120 715h1v28h-1zM1124 712h1v31h-1zM1128 711h1v32h-1zM1132 709h1v34h-1zM1136 709h1v34h-1zM1140 709h1v34h-1zM1144 711h1v32h-1zM1148 715h1v28h-1zM1152 717h1v26h-1zM1156 718h1v25h-1zM1160 719h1v24h-1zM1164 720h1v23h-1zM1168 722h1v21h-1zM1172 725h1v18h-1zM1176 729h1v14h-1zM1180 733h1v10h-1zM1184 736h1v7h-1zM1188 738h1v5h-1zM1192 742h1v1h-1zM1196 742h1v5h-1zM1200 742h1v9h-1zM1204 742h1v13h-1zM1208 742h1v15h-1zM1212 742h1v17h-1zM1216 742h1v20h-1zM1220 742h1v22h-1zM1224 742h1v23h-1zM1228 742h1v25h-1zM1232 742h1v26h-1zM1236 742h1v26h-1zM1240 742h1v26h-1zM1244 742h1v24h-1zM1248 742h1v22h-1zM1252 742h1v22h-1zM1256 742h1v28h-1zM1260 742h1v33h-1zM1264 742h1v36h-1zM1268 742h1v37h-1zM1272 742h1v33h-1zM1276 742h1v31h-1zM1280 742h1v30h-1zM1284 742h1v29h-1zM1288 742h1v28h-1zM1292 742h1v28h-1zM1296 742h1v28h-1zM1300 742h1v26h-1zM1304 742h1v25h-1zM1308 742h1v24h-1zM1312 742h1v25h-1zM1316 742h1v27h-1zM1320 742h1v30h-1zM1324 742h1v34h-1zM1328 742h1v37h-1zM1332 742h1v40h-1zM1336 742h1v41h-1zM1340 742h1v41h-1z"/>
<path fill="#ff0000" d="M6 727h1v1h-1zM30 727h1v1h-1zM42 729h1v1h-1zM66 727h1v1h-1zM78 725h1v1h-1zM82 724h1v1h-1zM90 721h1v1h-1zM102 722h1v1h-1zM106 723h1v1h-1zM112 728h1v1h-1zM113 729h1v1h-1zM114 730h1v1h-1zM118 734h1v1h-1zM119 735h1v1h-1zM120 736h1v1h-1zM123 740h1v1h-1zM124 741h1v1h-1zM125 742h1v1h-1zM128 746h1v1h-1zM129 747h1v1h-1zM130 748h1v1h-1zM136 753h1v1h-1zM140 756h1v1h-1zM146 759h1v1h-1zM166 759h1v1h-1zM178 758h1v1h-1zM214 755h1v1h-1zM224 758h1v1h-1zM225 759h1v1h-1zM226 760h1v1h-1zM230 762h1v1h-1zM236 766h1v1h-1zM244 771h1v1h-1zM248 773h1v1h-1zM262 777h1v1h-1zM274 775h1v1h-1zM284 772h1v1h-1zM290 769h1v1h-1zM296 766h1v1h-1zM322 763h1v1h-1zM334 766h1v1h-1zM346 769h1v1h-1zM358 771h1v1h-1zM370 774h1v1h-1zM382 775h1v1h-1zM394 777h1v1h-1zM406 780h1v1h-1zM410 781h1v1h-1zM416 784h1v1h-1zM422 787h1v1h-1zM430 790h1v1h-1zM442 789h1v1h-1zM466 789h1v1h-1zM478 791h1v1h-1zM490 789h1v1h-1zM496 786h1v1h-1zM500 782h1v1h-1zM501 781h1v1h-1zM502 780h1v1h-1zM508 775h1v1h-1zM512 772h1v1h-1zM526 771h1v1h-1zM530 772h1v1h-1zM536 775h1v1h-1zM537 776h1v1h-1zM538 777h1v1h-1zM544 781h1v1h-1zM548 783h1v1h-1zM586 790h1v1h-1zM598 790h1v1h-1zM608 787h1v1h-1zM609 786h1v1h-1zM610 785h1v1h-1zM616 781h1v1h-1zM620 777h1v1h-1zM621 776h1v1h-1zM622 775h1v1h-1zM626 773h1v1h-1zM634 771h1v1h-1zM644 774h1v1h-1zM645 775h1v1h-1zM646 776h1v1h-1zM650 778h1v1h-1zM656 782h1v1h-1zM657 783h1v1h-1zM658 784h1v1h-1zM662 786h1v1h-1zM668 788h1v1h-1zM682 792h1v1h-1zM706 791h1v1h-1zM710 790h1v1h-1zM716 787h1v1h-1zM722 784h1v1h-1zM766 780h1v1h-1zM770 779h1v1h-1zM778 776h1v1h-1zM782 775h1v1h-1zM788 773h1v1h-1zM802 768h1v1h-1zM806 767h1v1h-1zM812 765h1v1h-1zM838 765h1v1h-1zM842 766h1v1h-1zM848 769h1v1h-1zM862 775h1v1h-1zM874 773h1v1h-1zM878 772h1v1h-1zM884 769h1v1h-1zM890 766h1v1h-1zM896 764h1v1h-1zM897 763h1v1h-1zM898 762h1v1h-1zM902 760h1v1h-1zM910 756h1v1h-1zM946 754h1v1h-1zM962 756h1v1h-1zM970 759h1v1h-1zM974 760h1v1h-1zM982 764h1v1h-1zM994 763h1v1h-1zM998 762h1v1h-1zM1004 759h1v1h-1zM1012 754h1v1h-1zM1016 751h1v1h-1zM1017 750h1v1h-1zM1018 749h1v1h-1zM1022 747h1v1h-1zM1028 744h1v1h-1zM1034 741h1v1h-1zM1040 738h1v1h-1zM1048 733h1v1h-1zM1052 731h1v1h-1zM1058 728h1v1h-1zM1066 724h1v1h-1zM1070 723h1v1h-1zM1090 724h1v1h-1zM1102 726h1v1h-1zM1114 724h1v1h-1zM1124 722h1v1h-1zM1130 719h1v1h-1zM1136 716h1v1h-1zM1162 714h1v1h-1zM1166 715h1v1h-1zM1172 717h1v1h-1zM1173 718h1v1h-1zM1174 719h1v1h-1zM1178 721h1v1h-1zM1184 724h1v1h-1zM1185 725h1v1h-1zM1186 726h1v1h-1zM1190 728h1v1h-1zM1196 732h1v1h-1zM1197 733h1v1h-1zM1198 734h1v1h-1zM1204 739h1v1h-1zM1208 743h1v1h-1zM1209 744h1v1h-1zM1210 745h1v1h-1zM1216 749h1v1h-1zM1220 752h1v1h-1zM1221 753h1v1h-1zM1222 754h1v1h-1zM1226 756h1v1h-1zM1232 760h1v1h-1zM1246 765h1v1h-1zM1258 767h1v1h-1zM1270 770h1v1h-1zM1282 772h1v1h-1zM1294 772h1v1h-1zM1306 769h1v1h-1zM1328 769h1v1h-1zM1340 774h1v1h-1zM482 791h3v1h-3zM590 791h3v1h-3zM596 791h2v1h-2zM680 791h2v1h-2zM285 771h2v1h-2zM513 771h2v1h-2zM879 771h2v1h-2zM1274 771h3v1h-3zM1280 771h2v1h-2zM1298 771h3v1h-3zM297 765h2v1h-2zM332 765h2v1h-2zM891 765h2v1h-2zM1250 765h3v1h-3zM46 729h3v1h-3zM52 729h3v1h-3zM58 729h3v1h-3zM1191 729h2v1h-2zM386 775h3v1h-3zM866 775h3v1h-3zM16 725h3v1h-3zM22 725h3v1h-3zM1064 725h2v1h-2zM1094 725h3v1h-3zM1100 725h2v1h-2zM1112 725h2v1h-2zM231 763h2v1h-2zM302 763h3v1h-3zM980 763h2v1h-2zM1238 763h3v1h-3zM326 764h3v1h-3zM813 764h2v1h-2zM836 764h2v1h-2zM986 764h3v1h-3zM992 764h2v1h-2zM1244 764h2v1h-2zM254 776h3v1h-3zM260 776h2v1h-2zM272 776h2v1h-2zM392 776h2v1h-2zM506 776h2v1h-2zM1035 740h2v1h-2zM194 756h3v1h-3zM218 756h3v1h-3zM83 723h2v1h-2zM1088 723h2v1h-2zM1118 723h3v1h-3zM452 787h3v1h-3zM458 787h3v1h-3zM494 787h2v1h-2zM560 787h3v1h-3zM566 787h3v1h-3zM663 787h2v1h-2zM428 789h2v1h-2zM584 789h2v1h-2zM602 789h3v1h-3zM669 789h2v1h-2zM711 789h2v1h-2zM107 724h2v1h-2zM698 792h3v1h-3zM704 792h2v1h-2zM70 727h3v1h-3zM1059 727h2v1h-2zM423 788h2v1h-2zM446 788h3v1h-3zM464 788h2v1h-2zM572 788h3v1h-3zM578 788h3v1h-3zM1214 748h2v1h-2zM368 773h2v1h-2zM531 773h2v1h-2zM1286 773h3v1h-3zM1292 773h2v1h-2zM291 768h2v1h-2zM344 768h2v1h-2zM885 768h2v1h-2zM1262 768h3v1h-3zM1310 768h3v1h-3zM1316 768h3v1h-3zM1322 768h3v1h-3zM94 721h3v1h-3zM100 721h2v1h-2zM1125 721h2v1h-2zM10 726h3v1h-3zM28 726h2v1h-2zM76 726h2v1h-2zM1106 726h3v1h-3zM308 761h3v1h-3zM314 761h3v1h-3zM975 761h2v1h-2zM999 761h2v1h-2zM1233 761h2v1h-2zM200 755h3v1h-3zM914 755h3v1h-3zM956 755h3v1h-3zM1010 755h2v1h-2zM362 772h3v1h-3zM627 772h2v1h-2zM638 772h3v1h-3zM789 772h2v1h-2zM854 772h3v1h-3zM1334 772h3v1h-3zM807 766h2v1h-2zM1256 766h2v1h-2zM266 777h3v1h-3zM776 777h2v1h-2zM728 781h3v1h-3zM734 781h3v1h-3zM740 781h3v1h-3zM746 781h3v1h-3zM752 781h3v1h-3zM758 781h3v1h-3zM764 781h2v1h-2zM88 722h2v1h-2zM1071 722h2v1h-2zM1076 722h3v1h-3zM1082 722h3v1h-3zM1179 722h2v1h-2zM518 769h3v1h-3zM800 769h2v1h-2zM1268 769h2v1h-2zM141 757h2v1h-2zM188 757h3v1h-3zM908 757h2v1h-2zM963 757h2v1h-2zM1227 757h2v1h-2zM1029 743h2v1h-2zM320 762h2v1h-2zM818 762h3v1h-3zM824 762h3v1h-3zM830 762h3v1h-3zM147 760h2v1h-2zM152 760h3v1h-3zM158 760h3v1h-3zM164 760h2v1h-2zM398 778h3v1h-3zM771 778h2v1h-2zM249 774h2v1h-2zM278 774h3v1h-3zM374 774h3v1h-3zM380 774h2v1h-2zM783 774h2v1h-2zM860 774h2v1h-2zM872 774h2v1h-2zM554 786h3v1h-3zM717 786h2v1h-2zM686 793h3v1h-3zM692 793h3v1h-3zM4 728h2v1h-2zM34 728h3v1h-3zM40 728h2v1h-2zM64 728h2v1h-2zM434 790h3v1h-3zM440 790h2v1h-2zM470 790h3v1h-3zM476 790h2v1h-2zM488 790h2v1h-2zM674 790h3v1h-3zM1202 738h2v1h-2zM237 767h2v1h-2zM338 767h3v1h-3zM843 767h2v1h-2zM1167 716h2v1h-2zM1148 712h3v1h-3zM1154 712h3v1h-3zM206 754h3v1h-3zM212 754h2v1h-2zM920 754h3v1h-3zM950 754h3v1h-3zM242 770h2v1h-2zM350 770h3v1h-3zM356 770h2v1h-2zM524 770h2v1h-2zM632 770h2v1h-2zM794 770h3v1h-3zM849 770h2v1h-2zM1304 770h2v1h-2zM1329 770h2v1h-2zM1142 713h3v1h-3zM1160 713h2v1h-2zM182 758h3v1h-3zM968 758h2v1h-2zM1005 758h2v1h-2zM417 785h2v1h-2zM542 780h2v1h-2zM1137 715h2v1h-2zM926 753h3v1h-3zM932 753h3v1h-3zM938 753h3v1h-3zM944 753h2v1h-2zM549 784h2v1h-2zM723 783h2v1h-2zM1053 730h2v1h-2zM411 782h2v1h-2zM614 782h2v1h-2zM404 779h2v1h-2zM651 779h2v1h-2zM170 759h3v1h-3zM176 759h2v1h-2zM903 759h2v1h-2zM1041 737h2v1h-2zM1046 734h2v1h-2zM1131 718h2v1h-2zM134 752h2v1h-2zM1023 746h2v1h-2z"/>
</g>
<text x="8" y="714" font-family='"DejaVu Sans Condensed", "DejaVu Sans", "Liberation Sans", sans-serif' font-size="9.4" fill="#000" textLength="154" lengthAdjust="spacingAndGlyphs">MACD(12,26,9) -0.027509 -0.022083</text>
<rect x="1685" y="703" width="2" height="1" fill="#000"/><rect x="1685" y="742" width="2" height="1" fill="#000"/><rect x="1685" y="804" width="2" height="1" fill="#000"/>
<text x="1688" y="712" font-family='"DejaVu Sans Condensed", "DejaVu Sans", "Liberation Sans", sans-serif' font-size="9.4" fill="#000" textLength="38" lengthAdjust="spacingAndGlyphs">0.025623</text>
<text x="1688" y="746" font-family='"DejaVu Sans Condensed", "DejaVu Sans", "Liberation Sans", sans-serif' font-size="9.4" fill="#000" textLength="17" lengthAdjust="spacingAndGlyphs">0.00</text>
<text x="1688" y="801" font-family='"DejaVu Sans Condensed", "DejaVu Sans", "Liberation Sans", sans-serif' font-size="9.4" fill="#000" textLength="41" lengthAdjust="spacingAndGlyphs">-0.040687</text>
<rect x="4" y="805" width="1" height="3" fill="#000"/>
<text x="3" y="817" font-family='"DejaVu Sans Condensed", "DejaVu Sans", "Liberation Sans", sans-serif' font-size="9.4" fill="#000" textLength="49.8" lengthAdjust="spacingAndGlyphs">6 May 2020</text>
<rect x="68" y="805" width="1" height="3" fill="#000"/>
<text x="67" y="817" font-family='"DejaVu Sans Condensed", "DejaVu Sans", "Liberation Sans", sans-serif' font-size="9.4" fill="#000" textLength="54.7" lengthAdjust="spacingAndGlyphs">25 May 2020</text>
<rect x="132" y="805" width="1" height="3" fill="#000"/>
<text x="131" y="817" font-family='"DejaVu Sans Condensed", "DejaVu Sans", "Liberation Sans", sans-serif' font-size="9.4" fill="#000" textLength="49.4" lengthAdjust="spacingAndGlyphs">12 Jun 2020</text>
<rect x="196" y="805" width="1" height="3" fill="#000"/>
<text x="195" y="817" font-family='"DejaVu Sans Condensed", "DejaVu Sans", "Liberation Sans", sans-serif' font-size="9.4" fill="#000" textLength="41.1" lengthAdjust="spacingAndGlyphs">1 Jul 2020</text>
<rect x="260" y="805" width="1" height="3" fill="#000"/>
<text x="259" y="817" font-family='"DejaVu Sans Condensed", "DejaVu Sans", "Liberation Sans", sans-serif' font-size="9.4" fill="#000" textLength="46.8" lengthAdjust="spacingAndGlyphs">20 Jul 2020</text>
<rect x="324" y="805" width="1" height="3" fill="#000"/>
<text x="323" y="817" font-family='"DejaVu Sans Condensed", "DejaVu Sans", "Liberation Sans", sans-serif' font-size="9.4" fill="#000" textLength="47.3" lengthAdjust="spacingAndGlyphs">7 Aug 2020</text>
<rect x="388" y="805" width="1" height="3" fill="#000"/>
<text x="387" y="817" font-family='"DejaVu Sans Condensed", "DejaVu Sans", "Liberation Sans", sans-serif' font-size="9.4" fill="#000" textLength="52.8" lengthAdjust="spacingAndGlyphs">26 Aug 2020</text>
<rect x="452" y="805" width="1" height="3" fill="#000"/>
<text x="451" y="817" font-family='"DejaVu Sans Condensed", "DejaVu Sans", "Liberation Sans", sans-serif' font-size="9.4" fill="#000" textLength="51.2" lengthAdjust="spacingAndGlyphs">14 Sep 2020</text>
<rect x="516" y="805" width="1" height="3" fill="#000"/>
<text x="515" y="817" font-family='"DejaVu Sans Condensed", "DejaVu Sans", "Liberation Sans", sans-serif' font-size="9.4" fill="#000" textLength="45.3" lengthAdjust="spacingAndGlyphs">2 Oct 2020</text>
<rect x="580" y="805" width="1" height="3" fill="#000"/>
<text x="579" y="817" font-family='"DejaVu Sans Condensed", "DejaVu Sans", "Liberation Sans", sans-serif' font-size="9.4" fill="#000" textLength="50.3" lengthAdjust="spacingAndGlyphs">21 Oct 2020</text>
<rect x="644" y="805" width="1" height="3" fill="#000"/>
<text x="643" y="817" font-family='"DejaVu Sans Condensed", "DejaVu Sans", "Liberation Sans", sans-serif' font-size="9.4" fill="#000" textLength="47.8" lengthAdjust="spacingAndGlyphs">9 Nov 2020</text>
<rect x="708" y="805" width="1" height="3" fill="#000"/>
<text x="707" y="817" font-family='"DejaVu Sans Condensed", "DejaVu Sans", "Liberation Sans", sans-serif' font-size="9.4" fill="#000" textLength="53.1" lengthAdjust="spacingAndGlyphs">27 Nov 2020</text>
<rect x="772" y="805" width="1" height="3" fill="#000"/>
<text x="771" y="817" font-family='"DejaVu Sans Condensed", "DejaVu Sans", "Liberation Sans", sans-serif' font-size="9.4" fill="#000" textLength="51.4" lengthAdjust="spacingAndGlyphs">16 Dec 2020</text>
<rect x="836" y="805" width="1" height="3" fill="#000"/>
<text x="835" y="817" font-family='"DejaVu Sans Condensed", "DejaVu Sans", "Liberation Sans", sans-serif' font-size="9.4" fill="#000" textLength="44.3" lengthAdjust="spacingAndGlyphs">5 Jan 2021</text>
<rect x="900" y="805" width="1" height="3" fill="#000"/>
<text x="899" y="817" font-family='"DejaVu Sans Condensed", "DejaVu Sans", "Liberation Sans", sans-serif' font-size="9.4" fill="#000" textLength="49.1" lengthAdjust="spacingAndGlyphs">23 Jan 2021</text>
<rect x="964" y="805" width="1" height="3" fill="#000"/>
<text x="963" y="817" font-family='"DejaVu Sans Condensed", "DejaVu Sans", "Liberation Sans", sans-serif' font-size="9.4" fill="#000" textLength="50.9" lengthAdjust="spacingAndGlyphs">11 Feb 2021</text>
<rect x="1028" y="805" width="1" height="3" fill="#000"/>
<text x="1027" y="817" font-family='"DejaVu Sans Condensed", "DejaVu Sans", "Liberation Sans", sans-serif' font-size="9.4" fill="#000" textLength="46.1" lengthAdjust="spacingAndGlyphs">2 Mar 2021</text>
<rect x="1092" y="805" width="1" height="3" fill="#000"/>
<text x="1091" y="817" font-family='"DejaVu Sans Condensed", "DejaVu Sans", "Liberation Sans", sans-serif' font-size="9.4" fill="#000" textLength="50.9" lengthAdjust="spacingAndGlyphs">20 Mar 2021</text>
<rect x="1156" y="805" width="1" height="3" fill="#000"/>
<text x="1155" y="817" font-family='"DejaVu Sans Condensed", "DejaVu Sans", "Liberation Sans", sans-serif' font-size="9.4" fill="#000" textLength="45.2" lengthAdjust="spacingAndGlyphs">8 Apr 2021</text>
<rect x="1220" y="805" width="1" height="3" fill="#000"/>
<text x="1219" y="817" font-family='"DejaVu Sans Condensed", "DejaVu Sans", "Liberation Sans", sans-serif' font-size="9.4" fill="#000" textLength="50.3" lengthAdjust="spacingAndGlyphs">27 Apr 2021</text>
<rect x="1284" y="805" width="1" height="3" fill="#000"/>
<text x="1283" y="817" font-family='"DejaVu Sans Condensed", "DejaVu Sans", "Liberation Sans", sans-serif' font-size="9.4" fill="#000" textLength="54.6" lengthAdjust="spacingAndGlyphs">15 May 2021</text>
<rect x="0" y="825" width="1726" height="1" fill="#e3e3e3"/>
<rect x="0" y="826" width="1726" height="1" fill="#ffffff"/>
<rect x="0" y="827" width="1726" height="1" fill="#000"/>
<rect x="0" y="828" width="1726" height="1" fill="#ffffff"/>
<rect x="0" y="829" width="1726" height="18" fill="#f0f0f0"/>
<rect x="0" y="847" width="1726" height="1" fill="#ffffff"/>
<rect x="0" y="848" width="1726" height="3" fill="#f0f0f0"/>
<rect x="0" y="828" width="1" height="19" fill="#808080"/>
<rect x="209" y="828" width="1" height="18" fill="#ffffff"/>
<rect x="105" y="827" width="104" height="19" fill="#000"/><rect x="106" y="827" width="102" height="18" fill="#fff"/>
<text x="15.4" y="842" font-family='"Liberation Sans", "DejaVu Sans", sans-serif' font-size="12" fill="#6d6d6d" textLength="78.8" lengthAdjust="spacingAndGlyphs">USDCHF,Daily</text>
<text x="115.8" y="842" font-family='"Liberation Sans", "DejaVu Sans", sans-serif' font-size="12" fill="#000" textLength="82.1" lengthAdjust="spacingAndGlyphs">USDCNH,Daily</text>
<text x="221.2" y="842" font-family='"Liberation Sans", "DejaVu Sans", sans-serif' font-size="12" fill="#6d6d6d" textLength="79.8" lengthAdjust="spacingAndGlyphs">EURUSD,Daily</text>
<text x="323.9" y="842" font-family='"Liberation Sans", "DejaVu Sans", sans-serif' font-size="12" fill="#6d6d6d" textLength="82.1" lengthAdjust="spacingAndGlyphs">AUDUSD,Daily</text>
<text x="428.6" y="842" font-family='"Liberation Sans", "DejaVu Sans", sans-serif' font-size="12" fill="#6d6d6d" textLength="80.5" lengthAdjust="spacingAndGlyphs">USDCAD,Daily</text>
<text x="532" y="842" font-family='"Liberation Sans", "DejaVu Sans", sans-serif' font-size="12" fill="#6d6d6d" textLength="68.5" lengthAdjust="spacingAndGlyphs">XAUUSD,H1</text>
<text x="623.5" y="842" font-family='"Liberation Sans", "DejaVu Sans", sans-serif' font-size="12" fill="#6d6d6d" textLength="49.8" lengthAdjust="spacingAndGlyphs">USOil,H1</text>
<rect x="313" y="831" width="1" height="13" fill="#a0a0a0"/>
<rect x="417" y="831" width="1" height="13" fill="#a0a0a0"/>
<rect x="521" y="831" width="1" height="13" fill="#a0a0a0"/>
<rect x="613" y="831" width="1" height="13" fill="#a0a0a0"/>
<rect x="685" y="831" width="1" height="13" fill="#a0a0a0"/>
<path d="M1699.8 836l3.3-3.2v6.4z M1722.3 836l-3.3-3.2v6.4z" fill="#8c8c8c" shape-rendering="geometricPrecision"/>
<path fill="#3c3c3c" d="M0 3h1v1h-1zM2 3h1v1h-1zM4 3h1v1h-1zM6 3h1v1h-1zM8 3h1v1h-1zM10 3h1v1h-1zM12 3h1v1h-1zM0 6h1v1h-1zM2 6h1v1h-1zM4 6h1v1h-1zM6 6h1v1h-1zM8 6h1v1h-1zM10 6h1v1h-1zM12 6h1v1h-1zM0 10h1v1h-1zM2 10h1v1h-1zM4 10h1v1h-1zM6 10h1v1h-1zM8 10h1v1h-1zM10 10h1v1h-1zM12 10h1v1h-1zM0 14h1v1h-1zM2 14h1v1h-1zM4 14h1v1h-1zM6 14h1v1h-1zM8 14h1v1h-1zM60 4h1v1h-1zM62 4h1v1h-1zM64 4h1v1h-1zM66 4h1v1h-1zM68 4h1v1h-1zM56 3h2v2h-2zM57 6h1v1h-1zM57 8h1v1h-1zM57 10h1v1h-1zM57 12h1v1h-1zM57 14h1v1h-1zM68 6h1v1h-1zM68 8h1v1h-1zM68 10h1v1h-1zM68 12h1v1h-1zM68 14h1v1h-1zM57 16h1v1h-1zM59 16h1v1h-1zM61 16h1v1h-1zM63 16h1v1h-1zM65 16h1v1h-1zM67 16h1v1h-1z"/>
<text x="9.6" y="19.2" font-family='"Liberation Sans", "DejaVu Sans", sans-serif' font-size="7" font-weight="bold" fill="#3c3c3c" textLength="4.6" lengthAdjust="spacingAndGlyphs">F</text>
<text x="30.6" y="15" font-family='"Liberation Sans", "DejaVu Sans", sans-serif' font-size="12.6" fill="#3c3c3c" textLength="7.6" lengthAdjust="spacingAndGlyphs">A</text>
<text x="58.8" y="15" font-family='"Liberation Sans", "DejaVu Sans", sans-serif' font-size="11" font-weight="bold" fill="#3c3c3c" textLength="8.4" lengthAdjust="spacingAndGlyphs">T</text>
<path fill="#3c3c3c" d="M84 7.7l3.4-3.6 3.4 3.6h-2v1h-2.8v-1z M91.3 12.4h2v-0.6h3v0.6h1.8l-3.4 4.3z"/>
<path d="M86.2 11.2l2.3 2.4 4.3-5" fill="none" stroke="#3c3c3c" stroke-width="1.4" shape-rendering="geometricPrecision"/>
<path d="M104.9 9h5.2l-2.6 3z" fill="#000" shape-rendering="geometricPrecision"/>
<rect x="116" y="0" width="1" height="22" fill="#a0a0a0"/><rect x="117" y="0" width="1" height="22" fill="#ffffff"/>
<path fill="#707070" d="M120 0h3v1h-3zM120 2h3v1h-3zM120 4h3v1h-3zM120 6h3v1h-3zM120 8h3v1h-3zM120 10h3v1h-3zM120 12h3v1h-3zM120 14h3v1h-3zM120 16h3v1h-3zM120 18h3v1h-3z"/>
<rect x="294" y="0" width="1" height="21" fill="#a0a0a0"/><rect x="295" y="0" width="24" height="21" fill="#f6f6f6"/>
<rect x="377" y="0" width="1" height="22" fill="#a0a0a0"/><rect x="378" y="0" width="1" height="22" fill="#ffffff"/>
<text x="132" y="14" font-family='"DejaVu Sans Condensed", "DejaVu Sans", "Liberation Sans", sans-serif' font-size="9.6" fill="#3a3a3a" textLength="12.2" lengthAdjust="spacingAndGlyphs">M1</text>
<text x="159.6" y="14" font-family='"DejaVu Sans Condensed", "DejaVu Sans", "Liberation Sans", sans-serif' font-size="9.6" fill="#3a3a3a" textLength="12.7" lengthAdjust="spacingAndGlyphs">M5</text>
<text x="185.6" y="14" font-family='"DejaVu Sans Condensed", "DejaVu Sans", "Liberation Sans", sans-serif' font-size="9.6" fill="#3a3a3a" textLength="17.4" lengthAdjust="spacingAndGlyphs">M15</text>
<text x="213.6" y="14" font-family='"DejaVu Sans Condensed", "DejaVu Sans", "Liberation Sans", sans-serif' font-size="9.6" fill="#3a3a3a" textLength="18" lengthAdjust="spacingAndGlyphs">M30</text>
<text x="244" y="14" font-family='"DejaVu Sans Condensed", "DejaVu Sans", "Liberation Sans", sans-serif' font-size="9.6" fill="#3a3a3a" textLength="12.2" lengthAdjust="spacingAndGlyphs">H1</text>
<text x="271" y="14" font-family='"DejaVu Sans Condensed", "DejaVu Sans", "Liberation Sans", sans-serif' font-size="9.6" fill="#3a3a3a" textLength="13" lengthAdjust="spacingAndGlyphs">H4</text>
<text x="300.3" y="14" font-family='"DejaVu Sans Condensed", "DejaVu Sans", "Liberation Sans", sans-serif' font-size="9.6" fill="#3a3a3a" textLength="11.8" lengthAdjust="spacingAndGlyphs">D1</text>
<text x="328" y="14" font-family='"DejaVu Sans Condensed", "DejaVu Sans", "Liberation Sans", sans-serif' font-size="9.6" fill="#3a3a3a" textLength="14" lengthAdjust="spacingAndGlyphs">W1</text>
<text x="354.5" y="14" font-family='"DejaVu Sans Condensed", "DejaVu Sans", "Liberation Sans", sans-serif' font-size="9.6" fill="#3a3a3a" textLength="14.7" lengthAdjust="spacingAndGlyphs">MN</text>
</svg></body></html>
